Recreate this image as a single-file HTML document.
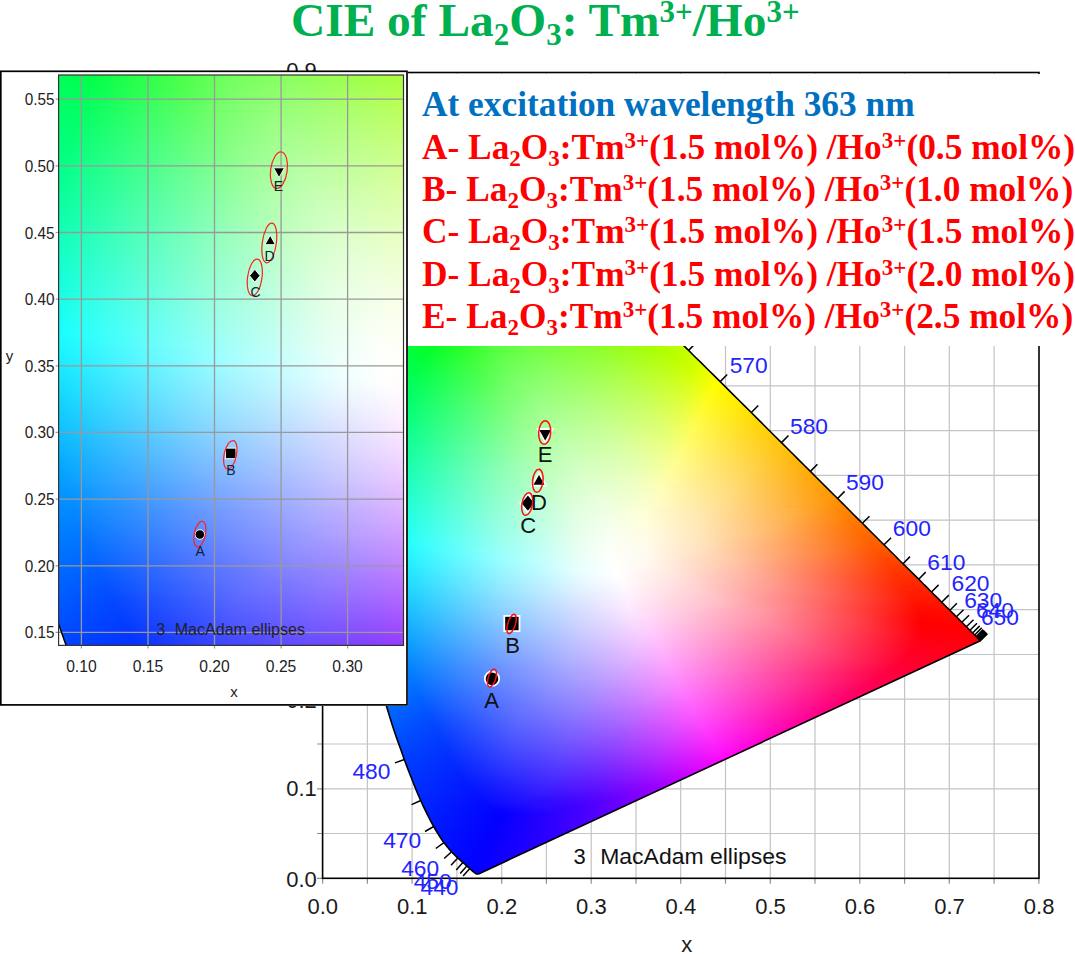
<!DOCTYPE html><html><head><meta charset="utf-8"><style>
body{margin:0;width:1075px;height:954px;background:#fff;position:relative;overflow:hidden}
.L{position:absolute;left:0;top:0}
.f{position:absolute;left:0;top:0;width:1075px;height:954px}
.f i{position:absolute;display:block}
text{font-family:'Liberation Sans',sans-serif}
.lg{position:absolute;left:408px;top:74px;width:667px;height:271.5px;background:#fff}
.lg div{position:absolute;left:14px;white-space:nowrap;font:bold 35.35px 'Liberation Serif',serif;color:#f00;line-height:1}
.lg sub{font-size:23px;vertical-align:-7px;line-height:0}
.lg sup{font-size:23px;vertical-align:11px;line-height:0}
.tt{position:absolute;left:291px;top:0;white-space:nowrap;font:bold 47.4px 'Liberation Serif',serif;color:#00b050;line-height:1}
.tt sub{font-size:31px;vertical-align:-9px;line-height:0}
.tt sup{font-size:31px;vertical-align:14px;line-height:0}
</style></head><body>
<svg class="L" width="1075" height="954" viewBox="0 0 1075 954">
<path d="M367.4 72.5V878.3M412.1 72.5V878.3M456.9 72.5V878.3M501.7 72.5V878.3M546.4 72.5V878.3M591.2 72.5V878.3M636.0 72.5V878.3M680.7 72.5V878.3M725.5 72.5V878.3M770.3 72.5V878.3M815.0 72.5V878.3M859.8 72.5V878.3M904.6 72.5V878.3M949.3 72.5V878.3M994.1 72.5V878.3M322.6 833.5H1039M322.6 788.8H1039M322.6 744.0H1039M322.6 699.2H1039M322.6 654.5H1039M322.6 609.7H1039M322.6 564.9H1039M322.6 520.2H1039M322.6 475.4H1039M322.6 430.6H1039M322.6 385.9H1039M322.6 341.1H1039M322.6 296.3H1039M322.6 251.6H1039M322.6 206.8H1039M322.6 162.0H1039M322.6 117.3H1039" stroke="#c4c4c4" stroke-width="1.2" fill="none"/>
<path d="M322.6 878.3v5.5M367.4 878.3v5.5M412.1 878.3v5.5M456.9 878.3v5.5M501.7 878.3v5.5M546.4 878.3v5.5M591.2 878.3v5.5M636.0 878.3v5.5M680.7 878.3v5.5M725.5 878.3v5.5M770.3 878.3v5.5M815.0 878.3v5.5M859.8 878.3v5.5M904.6 878.3v5.5M949.3 878.3v5.5M994.1 878.3v5.5M1038.9 878.3v5.5M317 878.3h5.6M317 833.5h5.6M317 788.8h5.6M317 744.0h5.6M317 699.2h5.6M317 654.5h5.6M317 609.7h5.6M317 564.9h5.6M317 520.2h5.6M317 475.4h5.6M317 430.6h5.6M317 385.9h5.6M317 341.1h5.6M317 296.3h5.6M317 251.6h5.6M317 206.8h5.6M317 162.0h5.6M317 117.3h5.6M317 72.5h5.6" stroke="#909090" stroke-width="1.2" fill="none"/>
<rect x="322.6" y="72.5" width="716.4" height="805.8" fill="none" stroke="#000" stroke-width="1.6"/>
<text x="322.8" y="913.8" font-size="22" text-anchor="middle" fill="#1a1a1a">0.0</text>
<text x="412.3" y="913.8" font-size="22" text-anchor="middle" fill="#1a1a1a">0.1</text>
<text x="501.9" y="913.8" font-size="22" text-anchor="middle" fill="#1a1a1a">0.2</text>
<text x="591.4" y="913.8" font-size="22" text-anchor="middle" fill="#1a1a1a">0.3</text>
<text x="680.9" y="913.8" font-size="22" text-anchor="middle" fill="#1a1a1a">0.4</text>
<text x="770.5" y="913.8" font-size="22" text-anchor="middle" fill="#1a1a1a">0.5</text>
<text x="860.0" y="913.8" font-size="22" text-anchor="middle" fill="#1a1a1a">0.6</text>
<text x="949.5" y="913.8" font-size="22" text-anchor="middle" fill="#1a1a1a">0.7</text>
<text x="1039.1" y="913.8" font-size="22" text-anchor="middle" fill="#1a1a1a">0.8</text>
<text x="316.8" y="886.5" font-size="22" text-anchor="end" fill="#1a1a1a">0.0</text>
<text x="316.8" y="796.3" font-size="22" text-anchor="end" fill="#1a1a1a">0.1</text>
<text x="316.8" y="707.6" font-size="22" text-anchor="end" fill="#1a1a1a">0.2</text>
<text x="316.8" y="617.7" font-size="22" text-anchor="end" fill="#1a1a1a">0.3</text>
<text x="316.8" y="528.2" font-size="22" text-anchor="end" fill="#1a1a1a">0.4</text>
<text x="316.8" y="438.6" font-size="22" text-anchor="end" fill="#1a1a1a">0.5</text>
<text x="316.8" y="349.1" font-size="22" text-anchor="end" fill="#1a1a1a">0.6</text>
<text x="316.8" y="259.6" font-size="22" text-anchor="end" fill="#1a1a1a">0.7</text>
<text x="316.8" y="170.0" font-size="22" text-anchor="end" fill="#1a1a1a">0.8</text>
<text x="316.8" y="77.7" font-size="22" text-anchor="end" fill="#1a1a1a">0.9</text>
<text x="686.7" y="951.5" font-size="22" text-anchor="middle" fill="#1a1a1a">x</text>
</svg>
<div class="f" style="clip-path:polygon(478.5px 873.9px,478.5px 873.9px,478.5px 873.8px,478.4px 873.8px,478.4px 873.8px,478.4px 873.8px,478.4px 873.9px,478.3px 873.9px,478.3px 873.9px,478.3px 873.9px,478.2px 873.9px,478.2px 873.9px,478.1px 873.9px,478.1px 873.9px,478.0px 873.9px,478.0px 873.9px,478.0px 873.9px,477.9px 873.9px,477.9px 874.0px,477.8px 874.0px,477.8px 874.0px,477.8px 874.0px,477.7px 874.0px,477.7px 874.0px,477.6px 874.0px,477.5px 874.0px,477.4px 874.0px,477.4px 874.0px,477.3px 874.0px,477.2px 874.0px,477.1px 874.0px,477.0px 874.0px,477.0px 874.0px,476.9px 874.0px,476.8px 874.0px,476.7px 874.0px,476.6px 874.0px,476.5px 873.9px,476.4px 873.9px,476.2px 873.8px,476.1px 873.7px,475.9px 873.6px,475.7px 873.5px,475.5px 873.4px,475.3px 873.3px,475.1px 873.1px,474.9px 873.0px,474.6px 872.8px,474.4px 872.6px,474.1px 872.4px,473.8px 872.1px,473.5px 871.9px,473.1px 871.6px,472.8px 871.3px,472.4px 871.0px,472.0px 870.6px,471.6px 870.3px,471.2px 869.9px,470.8px 869.5px,470.3px 869.0px,469.8px 868.6px,469.3px 868.1px,468.7px 867.6px,468.1px 867.1px,467.5px 866.5px,466.8px 866.0px,466.1px 865.3px,465.4px 864.7px,464.6px 864.0px,463.7px 863.2px,462.8px 862.4px,461.9px 861.6px,461.0px 860.8px,459.9px 859.9px,458.9px 858.9px,457.8px 857.9px,456.6px 856.9px,455.4px 855.7px,454.2px 854.5px,452.8px 853.1px,451.5px 851.7px,450.1px 850.2px,448.7px 848.6px,447.2px 846.8px,445.6px 844.8px,443.9px 842.6px,442.1px 840.1px,440.2px 837.2px,438.2px 834.0px,436.0px 830.5px,433.7px 826.5px,431.4px 822.3px,428.9px 817.6px,426.3px 812.4px,423.6px 806.8px,420.7px 800.5px,417.7px 793.7px,414.6px 786.2px,411.4px 778.0px,407.9px 769.1px,404.3px 759.5px,400.6px 749.1px,396.6px 737.9px,392.5px 725.7px,388.4px 712.6px,384.1px 698.6px,379.9px 683.6px,375.7px 667.7px,371.5px 650.8px,367.4px 633.0px,363.2px 614.2px,359.1px 594.5px,355.0px 574.0px,351.0px 552.8px,347.2px 531.0px,343.6px 508.8px,340.2px 486.4px,337.2px 463.8px,334.4px 441.2px,332.0px 418.6px,329.9px 396.2px,328.2px 374.2px,327.0px 352.6px,326.2px 331.7px,325.9px 311.5px,326.1px 292.0px,326.8px 273.1px,328.0px 255.0px,329.8px 237.8px,332.1px 221.6px,335.0px 206.6px,338.5px 192.8px,342.5px 180.3px,347.0px 169.1px,352.0px 159.4px,357.4px 151.3px,363.2px 144.7px,369.3px 139.5px,375.7px 135.7px,382.3px 133.1px,389.1px 131.8px,396.1px 131.5px,403.1px 132.2px,410.3px 133.7px,417.5px 135.9px,424.8px 138.6px,432.1px 141.6px,439.5px 145.1px,446.8px 148.8px,454.0px 152.7px,461.1px 156.8px,468.1px 160.9px,475.0px 165.1px,481.8px 169.5px,488.6px 173.9px,495.3px 178.5px,501.9px 183.2px,508.6px 187.9px,515.1px 192.8px,521.7px 197.8px,528.2px 202.9px,534.7px 208.1px,541.2px 213.4px,547.7px 218.8px,554.1px 224.2px,560.6px 229.8px,567.0px 235.4px,573.4px 241.1px,579.8px 246.8px,586.2px 252.6px,592.6px 258.4px,599.0px 264.3px,605.5px 270.3px,611.9px 276.3px,618.3px 282.3px,624.7px 288.4px,631.1px 294.5px,637.5px 300.6px,643.9px 306.8px,650.3px 313.0px,656.7px 319.2px,663.1px 325.4px,669.4px 331.7px,675.8px 337.9px,682.2px 344.1px,688.6px 350.4px,694.9px 356.7px,701.3px 362.9px,707.6px 369.2px,713.9px 375.4px,720.2px 381.6px,726.5px 387.9px,732.7px 394.1px,738.9px 400.2px,745.1px 406.4px,751.3px 412.5px,757.4px 418.6px,763.5px 424.7px,769.5px 430.7px,775.5px 436.7px,781.5px 442.6px,787.4px 448.5px,793.2px 454.3px,799.0px 460.1px,804.7px 465.8px,810.4px 471.4px,816.0px 477.0px,821.5px 482.5px,826.9px 487.9px,832.3px 493.2px,837.6px 498.5px,842.8px 503.6px,847.9px 508.7px,852.8px 513.7px,857.7px 518.6px,862.4px 523.3px,867.0px 527.9px,871.4px 532.3px,875.7px 536.5px,879.9px 540.7px,884.0px 544.8px,888.0px 548.8px,892.0px 552.7px,895.8px 556.5px,899.4px 560.2px,903.0px 563.7px,906.4px 567.1px,909.7px 570.3px,912.8px 573.4px,915.8px 576.4px,918.7px 579.2px,921.5px 582.0px,924.1px 584.7px,926.7px 587.2px,929.2px 589.7px,931.5px 592.0px,933.7px 594.3px,935.9px 596.4px,937.9px 598.4px,939.9px 600.4px,941.7px 602.2px,943.5px 604.0px,945.2px 605.7px,946.8px 607.3px,948.4px 608.8px,949.9px 610.3px,951.3px 611.7px,952.7px 613.1px,954.0px 614.4px,955.2px 615.6px,956.4px 616.8px,957.6px 618.0px,958.7px 619.1px,959.8px 620.2px,960.9px 621.3px,961.9px 622.3px,962.9px 623.3px,963.8px 624.2px,964.7px 625.1px,965.6px 625.9px,966.4px 626.8px,967.2px 627.5px,967.9px 628.3px,968.6px 629.0px,969.3px 629.7px,970.0px 630.3px,970.6px 630.9px,971.1px 631.5px,971.7px 632.0px,972.1px 632.5px,972.6px 633.0px,973.1px 633.4px,973.5px 633.8px,973.9px 634.3px,974.3px 634.6px,974.7px 635.0px,975.0px 635.4px,975.3px 635.7px,975.6px 636.0px,975.9px 636.3px,976.2px 636.5px,976.4px 636.8px,976.6px 637.0px,976.8px 637.2px,977.0px 637.4px,977.2px 637.5px,977.4px 637.7px,977.5px 637.9px,977.7px 638.0px,977.8px 638.2px,978.0px 638.3px,978.1px 638.5px,978.3px 638.6px,978.4px 638.7px,978.5px 638.9px,978.6px 639.0px,978.8px 639.1px,978.9px 639.2px,979.0px 639.4px,979.1px 639.5px,979.3px 639.6px,979.4px 639.7px,979.5px 639.9px,979.6px 640.0px,979.7px 640.1px,979.8px 640.2px,979.9px 640.3px,980.0px 640.3px,980.0px 640.4px,980.1px 640.4px,980.1px 640.5px,980.2px 640.5px,980.2px 640.6px,980.3px 640.6px,980.3px 640.6px,980.3px 640.7px,980.3px 640.7px,980.4px 640.7px,980.4px 640.7px,980.4px 640.8px,980.4px 640.8px)"><i style="left:376px;top:344px;width:311px;height:2px;background:linear-gradient(90deg,#00ff55 0px,#03ff25 54px,#2bff27 88px,#4fff3b 115px,#6cff43 152px,#85ff2f 208px,#a2ff07 268px,#aaff00 281px,#c2ff00 310px)"></i>
<i style="left:376px;top:346px;width:313px;height:2px;background:linear-gradient(90deg,#00ff57 0px,#03ff28 53px,#2dff2a 89px,#50ff3d 115px,#6eff46 152px,#86ff33 207px,#a3ff0a 268px,#adff00 284px,#c4ff00 312px)"></i>
<i style="left:376px;top:348px;width:315px;height:2px;background:linear-gradient(90deg,#00ff58 0px,#03ff2a 52px,#31ff2d 91px,#57ff42 120px,#72ff48 157px,#8dff2f 219px,#a9ff07 276px,#b1ff00 288px,#c7ff00 314px)"></i>
<i style="left:376px;top:350px;width:317px;height:2px;background:linear-gradient(90deg,#00ff5a 0px,#03ff2d 51px,#33ff2f 92px,#58ff44 120px,#74ff4a 157px,#8eff33 218px,#aaff0b 275px,#b3ff00 290px,#c9ff00 316px)"></i>
<i style="left:376px;top:352px;width:319px;height:2px;background:linear-gradient(90deg,#00ff5c 0px,#02ff2f 50px,#35ff32 93px,#59ff45 120px,#75ff4d 157px,#8fff36 217px,#aaff0f 274px,#b6ff00 293px,#cbff00 318px)"></i>
<i style="left:376px;top:354px;width:321px;height:2px;background:linear-gradient(90deg,#00ff5d 0px,#02ff32 49px,#37ff34 94px,#5aff47 120px,#77ff4f 157px,#90ff3a 216px,#abff13 273px,#b9ff00 296px,#ceff00 320px)"></i>
<i style="left:376px;top:356px;width:323px;height:2px;background:linear-gradient(90deg,#00ff5e 0px,#02ff35 48px,#3bff38 96px,#60ff4c 125px,#7bff51 162px,#97ff36 228px,#b3ff0c 284px,#bdff00 300px,#d2ff00 322px)"></i>
<i style="left:376px;top:358px;width:325px;height:2px;background:linear-gradient(90deg,#00ff5f 0px,#03ff37 48px,#3dff3a 97px,#61ff4e 125px,#7cff54 162px,#98ff3a 227px,#b3ff10 283px,#bfff00 302px,#d6ff00 324px)"></i>
<i style="left:376px;top:360px;width:327px;height:2px;background:linear-gradient(90deg,#00ff61 0px,#03ff3a 47px,#3fff3c 98px,#63ff50 125px,#7eff56 162px,#99ff3d 226px,#b4ff14 282px,#c2ff00 305px,#d8ff00 324px,#dbff00 326px)"></i>
<i style="left:376px;top:362px;width:329px;height:2px;background:linear-gradient(90deg,#00ff62 0px,#00ff40 41px,#0fff3c 56px,#43ff3f 100px,#68ff53 129px,#81ff58 166px,#9fff3b 235px,#bbff0f 291px,#c6ff00 309px,#dfff00 328px)"></i>
<i style="left:376px;top:364px;width:331px;height:2px;background:linear-gradient(90deg,#00ff63 0px,#00ff45 37px,#05ff3f 47px,#45ff42 101px,#69ff55 129px,#83ff5b 166px,#a0ff3f 234px,#bbff13 290px,#c9ff00 311px,#e3ff00 330px)"></i>
<i style="left:376px;top:366px;width:333px;height:2px;background:linear-gradient(90deg,#00ff64 0px,#00ff49 35px,#05ff42 46px,#47ff44 102px,#6bff58 130px,#85ff5d 167px,#a1ff41 235px,#bdff15 291px,#ccff00 314px,#e7ff00 332px)"></i>
<i style="left:376px;top:368px;width:335px;height:2px;background:linear-gradient(90deg,#00ff66 0px,#00ff4b 35px,#04ff44 45px,#4aff47 104px,#70ff5b 134px,#88ff5f 171px,#a6ff40 242px,#c3ff10 299px,#d2ff00 317px,#ecff00 334px)"></i>
<i style="left:376px;top:370px;width:337px;height:2px;background:linear-gradient(90deg,#00ff67 0px,#00ff4d 35px,#04ff47 44px,#4cff4a 105px,#71ff5d 134px,#89ff61 171px,#a7ff44 241px,#c4ff14 298px,#d4ff00 318px,#f0ff00 336px)"></i>
<i style="left:376px;top:372px;width:339px;height:2px;background:linear-gradient(90deg,#00ff68 0px,#00ff4e 36px,#07ff4a 46px,#4eff4c 106px,#72ff5f 134px,#8aff64 170px,#a8ff48 239px,#c3ff1b 295px,#d5ff03 317px,#f5ff00 338px)"></i>
<i style="left:376px;top:374px;width:341px;height:2px;background:linear-gradient(90deg,#00ff6a 0px,#00ff4f 37px,#4eff4d 106px,#6fff5f 130px,#8aff67 166px,#a4ff50 229px,#bfff28 284px,#d4ff09 315px,#e5ff00 327px,#f9ff00 340px)"></i>
<i style="left:376px;top:376px;width:343px;height:2px;background:linear-gradient(90deg,#00ff6b 0px,#03ff4f 41px,#4eff4f 105px,#70ff61 130px,#8bff69 166px,#a5ff54 228px,#bfff2c 283px,#d5ff0c 315px,#eaff00 329px,#feff00 342px)"></i>
<i style="left:376px;top:378px;width:345px;height:2px;background:linear-gradient(90deg,#00ff6c 0px,#03ff52 40px,#50ff51 106px,#74ff64 133px,#8eff6b 169px,#aaff53 235px,#c4ff29 290px,#d6ff10 314px,#eeff00 331px,#fffc00 344px)"></i>
<i style="left:376px;top:380px;width:347px;height:2px;background:linear-gradient(90deg,#00ff6e 0px,#02ff55 39px,#51ff54 106px,#79ff68 137px,#91ff6d 173px,#aeff52 241px,#caff25 297px,#d9ff12 315px,#f5ff00 334px,#fffc00 343px,#fffa00 346px)"></i>
<i style="left:376px;top:382px;width:349px;height:2px;background:linear-gradient(90deg,#00ff6f 0px,#03ff57 39px,#53ff56 107px,#7cff6b 139px,#94ff6f 175px,#b1ff53 244px,#cdff25 300px,#ddff13 317px,#fbff00 337px,#fff900 347px,#fff800 348px)"></i>
<i style="left:376px;top:384px;width:351px;height:2px;background:linear-gradient(90deg,#00ff71 0px,#03ff5a 38px,#56ff59 108px,#7eff6d 140px,#96ff71 176px,#b2ff55 245px,#cfff26 302px,#e5ff12 321px,#fffd00 340px,#fff700 350px)"></i>
<i style="left:376px;top:386px;width:353px;height:2px;background:linear-gradient(90deg,#00ff72 0px,#02ff5d 37px,#57ff5b 108px,#82ff70 143px,#99ff73 180px,#b6ff56 249px,#d3ff24 307px,#fffd01 339px,#fff500 352px)"></i>
<i style="left:376px;top:388px;width:355px;height:2px;background:linear-gradient(90deg,#00ff73 0px,#03ff5f 37px,#59ff5e 109px,#73ff69 128px,#92ff77 163px,#a8ff6a 214px,#c0ff4a 269px,#d9ff24 310px,#fffd05 338px,#fff500 350px,#fff300 354px)"></i>
<i style="left:376px;top:390px;width:357px;height:2px;background:linear-gradient(90deg,#00ff75 0px,#03ff60 36px,#5bff60 110px,#78ff6d 132px,#95ff79 167px,#adff69 223px,#c5ff47 276px,#dbff27 310px,#fffd09 337px,#fff500 349px,#fff100 356px)"></i>
<i style="left:376px;top:392px;width:359px;height:2px;background:linear-gradient(90deg,#00ff76 0px,#02ff62 35px,#5dff63 111px,#74ff6c 128px,#94ff7b 163px,#aaff70 212px,#c2ff51 268px,#dbff2b 309px,#fffd0d 336px,#fff300 351px,#fff000 358px)"></i>
<i style="left:376px;top:394px;width:361px;height:2px;background:linear-gradient(90deg,#00ff78 0px,#03ff64 35px,#60ff65 112px,#74ff6d 127px,#95ff7d 162px,#a9ff74 208px,#c2ff56 265px,#dbff2f 308px,#fffd12 335px,#fff100 354px,#ffee00 360px)"></i>
<i style="left:376px;top:396px;width:363px;height:2px;background:linear-gradient(90deg,#00ff79 0px,#03ff66 34px,#62ff68 113px,#77ff70 129px,#97ff7f 164px,#acff75 212px,#c4ff57 267px,#dcff33 307px,#fffc16 334px,#ffef00 356px,#ffec00 362px)"></i>
<i style="left:376px;top:398px;width:365px;height:2px;background:linear-gradient(90deg,#00ff7b 0px,#02ff68 33px,#63ff6a 113px,#77ff70 128px,#98ff81 163px,#acff79 209px,#c4ff5c 265px,#ddff36 307px,#fffc1a 333px,#ffed00 359px,#ffea00 364px)"></i>
<i style="left:376px;top:400px;width:367px;height:2px;background:linear-gradient(90deg,#00ff7c 0px,#03ff6a 33px,#65ff6c 114px,#77ff72 128px,#99ff83 163px,#adff7c 208px,#c6ff5e 265px,#deff3a 306px,#fffc1e 332px,#ffea00 362px,#ffe800 366px)"></i>
<i style="left:376px;top:402px;width:369px;height:2px;background:linear-gradient(90deg,#00ff7e 0px,#03ff6c 32px,#67ff6f 115px,#7aff74 130px,#9cff85 165px,#b0ff7d 211px,#c7ff60 266px,#deff3e 305px,#fffc22 331px,#ffe800 365px,#ffe600 368px)"></i>
<i style="left:376px;top:404px;width:371px;height:2px;background:linear-gradient(90deg,#00ff7f 0px,#02ff6e 31px,#69ff71 116px,#7cff77 131px,#9dff88 166px,#b2ff7f 213px,#c9ff62 267px,#e0ff40 305px,#fffc26 330px,#ffe600 367px,#ffe400 370px)"></i>
<i style="left:376px;top:406px;width:373px;height:2px;background:linear-gradient(90deg,#00ff81 0px,#03ff70 31px,#6bff73 117px,#7eff79 132px,#9fff8a 167px,#b4ff81 214px,#cbff64 268px,#e0ff44 304px,#fffc2a 329px,#ffe400 370px,#ffe300 372px)"></i>
<i style="left:376px;top:408px;width:375px;height:2px;background:linear-gradient(90deg,#00ff82 0px,#03ff72 30px,#6dff76 118px,#80ff7b 133px,#a0ff8c 167px,#b5ff84 213px,#cbff68 267px,#e0ff48 303px,#fffc2e 328px,#ffe100 373px,#ffe100 374px)"></i>
<i style="left:376px;top:410px;width:377px;height:2px;background:linear-gradient(90deg,#00ff84 0px,#02ff74 29px,#6fff78 119px,#83ff7e 135px,#a3ff8e 170px,#b9ff84 220px,#cfff67 272px,#e2ff4b 303px,#fffc32 327px,#ffdf00 376px)"></i>
<i style="left:376px;top:412px;width:379px;height:2px;background:linear-gradient(90deg,#00ff85 0px,#03ff76 29px,#72ff7a 121px,#85ff80 136px,#a5ff90 171px,#baff86 221px,#d0ff69 273px,#e2ff4f 302px,#fffc36 326px,#ffdd00 378px)"></i>
<i style="left:376px;top:414px;width:381px;height:2px;background:linear-gradient(90deg,#00ff87 0px,#03ff78 28px,#74ff7d 122px,#87ff82 137px,#a6ff92 171px,#bbff89 220px,#d1ff6c 272px,#e4ff51 302px,#fffc3a 325px,#ffdb00 380px)"></i>
<i style="left:376px;top:416px;width:383px;height:2px;background:linear-gradient(90deg,#00ff89 0px,#02ff7a 27px,#76ff7f 123px,#8aff85 139px,#a9ff94 173px,#beff8a 224px,#d3ff6c 275px,#e4ff55 301px,#fffc3e 324px,#ffd900 382px)"></i>
<i style="left:376px;top:418px;width:385px;height:2px;background:linear-gradient(90deg,#00ff8a 0px,#03ff7c 27px,#78ff81 124px,#8cff87 140px,#aaff96 174px,#c0ff8b 226px,#d6ff6d 277px,#e6ff58 301px,#fffc42 323px,#ffd700 384px)"></i>
<i style="left:376px;top:420px;width:387px;height:2px;background:linear-gradient(90deg,#00ff8c 0px,#03ff7e 26px,#7aff84 125px,#8dff89 141px,#acff98 175px,#c2ff8d 227px,#d7ff6f 278px,#e7ff5b 301px,#fffc46 322px,#ffd501 386px)"></i>
<i style="left:376px;top:422px;width:389px;height:2px;background:linear-gradient(90deg,#00ff8d 0px,#02ff80 25px,#7cff86 126px,#91ff8b 143px,#aeff9a 177px,#c5ff8e 232px,#dbff6e 283px,#eaff5c 302px,#fffc4a 321px,#ffd301 388px)"></i>
<i style="left:376px;top:424px;width:391px;height:2px;background:linear-gradient(90deg,#00ff8f 0px,#03ff83 25px,#7eff88 127px,#92ff8d 144px,#b0ff9c 178px,#c7ff90 233px,#dcff6f 284px,#ebff5f 302px,#fffc4d 320px,#ffd202 390px)"></i>
<i style="left:376px;top:426px;width:393px;height:2px;background:linear-gradient(90deg,#00ff91 0px,#03ff85 24px,#80ff8a 128px,#94ff8f 145px,#b2ff9e 179px,#c8ff92 235px,#deff70 286px,#f4ff5c 308px,#fffc51 319px,#ffd003 392px)"></i>
<i style="left:376px;top:428px;width:395px;height:2px;background:linear-gradient(90deg,#00ff92 0px,#02ff87 23px,#82ff8c 129px,#97ff92 147px,#b3ffa0 180px,#caff93 236px,#e0ff72 287px,#fffc55 318px,#ffce03 394px)"></i>
<i style="left:376px;top:430px;width:397px;height:2px;background:linear-gradient(90deg,#00ff94 0px,#03ff89 23px,#84ff8f 130px,#99ff94 148px,#b5ffa2 181px,#ccff95 237px,#e1ff74 288px,#fffc58 317px,#ffcc04 396px)"></i>
<i style="left:376px;top:432px;width:399px;height:2px;background:linear-gradient(90deg,#00ff96 0px,#03ff8b 22px,#86ff91 131px,#9bff96 149px,#b7ffa4 182px,#cdff97 239px,#e3ff74 290px,#fffc5c 316px,#ffca04 398px)"></i>
<i style="left:376px;top:434px;width:401px;height:2px;background:linear-gradient(90deg,#00ff97 0px,#03ff8d 22px,#89ff93 133px,#9eff99 151px,#b9ffa6 184px,#d0ff98 242px,#e9ff73 294px,#fffc60 315px,#ffc905 400px)"></i>
<i style="left:376px;top:436px;width:403px;height:2px;background:linear-gradient(90deg,#00ff99 0px,#03ff8f 21px,#8bff95 134px,#9fff9b 152px,#bbffa8 185px,#d1ff9a 243px,#e9ff77 293px,#fffc63 314px,#ffc706 401px,#ffc705 402px)"></i>
<i style="left:376px;top:438px;width:405px;height:2px;background:linear-gradient(90deg,#00ff9b 0px,#02ff91 20px,#8dff97 135px,#a1ff9d 153px,#bcffaa 186px,#d3ff9c 244px,#ebff79 293px,#fffc67 313px,#ffc80a 400px,#ffc505 404px)"></i>
<i style="left:376px;top:440px;width:407px;height:2px;background:linear-gradient(90deg,#00ff9d 0px,#03ff93 20px,#8fff99 136px,#a4ff9f 155px,#beffac 188px,#d5ff9d 246px,#ebff7d 292px,#fffc6a 312px,#ffc90f 398px,#ffc306 406px)"></i>
<i style="left:376px;top:442px;width:409px;height:2px;background:linear-gradient(90deg,#00ff9e 0px,#03ff96 19px,#8fff9b 136px,#a6ffa1 156px,#bfffae 188px,#d6ff9f 246px,#ebff80 291px,#fffd6e 311px,#ffca15 396px,#ffc106 408px)"></i>
<i style="left:376px;top:444px;width:411px;height:2px;background:linear-gradient(90deg,#00ffa0 0px,#03ff98 19px,#91ff9d 137px,#a7ffa3 157px,#c1ffb0 189px,#d7ffa1 247px,#edff82 291px,#fffd71 310px,#ffcb1a 394px,#ffc006 410px)"></i>
<i style="left:376px;top:446px;width:413px;height:2px;background:linear-gradient(90deg,#00ffa2 0px,#03ff9a 18px,#93ff9f 138px,#a9ffa5 158px,#c2ffb1 190px,#d8ffa3 247px,#edff86 290px,#fffd75 309px,#ffcb1e 393px,#ffbe06 412px)"></i>
<i style="left:376px;top:448px;width:415px;height:2px;background:linear-gradient(90deg,#00ffa4 0px,#04ff9c 18px,#95ffa2 139px,#acffa7 160px,#c4ffb3 192px,#daffa5 249px,#edff89 289px,#fffd78 308px,#ffcc23 391px,#ffbc06 414px)"></i>
<i style="left:376px;top:450px;width:417px;height:2px;background:linear-gradient(90deg,#00ffa5 0px,#03ff9e 17px,#96ffa3 139px,#adffa9 161px,#c6ffb5 193px,#dbffa6 250px,#eeff8b 289px,#fffd7b 307px,#ffcd27 389px,#ffba06 416px)"></i>
<i style="left:376px;top:452px;width:419px;height:2px;background:linear-gradient(90deg,#00ffa7 0px,#02ffa0 16px,#96ffa5 139px,#afffab 162px,#c7ffb7 194px,#ddffa8 251px,#efff8e 288px,#fffd7f 306px,#ffcd2b 388px,#ffb806 418px)"></i>
<i style="left:376px;top:454px;width:421px;height:2px;background:linear-gradient(90deg,#00ffa9 0px,#03ffa2 16px,#98ffa7 140px,#b1ffad 163px,#c9ffb9 195px,#deffaa 251px,#f0ff91 288px,#fffd82 305px,#ffce30 386px,#ffb706 420px)"></i>
<i style="left:376px;top:456px;width:423px;height:2px;background:linear-gradient(90deg,#00ffab 0px,#02ffa4 15px,#98ffa9 139px,#b2ffaf 164px,#caffba 196px,#dfffac 252px,#f0ff94 287px,#fffd85 304px,#ffcf35 384px,#ffb506 422px)"></i>
<i style="left:376px;top:458px;width:425px;height:2px;background:linear-gradient(90deg,#00ffad 0px,#03ffa7 15px,#98ffab 139px,#b5ffb1 166px,#ccffbc 197px,#e0ffae 252px,#f0ff97 286px,#fffd88 303px,#ffd03a 382px,#ffb306 424px)"></i>
<i style="left:376px;top:460px;width:427px;height:2px;background:linear-gradient(90deg,#00ffaf 0px,#04ffa9 15px,#99ffad 139px,#b6ffb3 167px,#cdffbe 198px,#e1ffb0 253px,#f2ff99 286px,#fffd8c 302px,#ffd13d 381px,#ffb105 426px)"></i>
<i style="left:376px;top:462px;width:429px;height:2px;background:linear-gradient(90deg,#00ffb0 0px,#03ffab 14px,#98ffaf 137px,#b8ffb5 168px,#cfffc0 199px,#e2ffb2 253px,#f2ff9c 285px,#fffd8f 301px,#ffd142 379px,#ffb005 428px)"></i>
<i style="left:376px;top:464px;width:431px;height:2px;background:linear-gradient(90deg,#00ffb2 0px,#04ffad 14px,#97ffb1 136px,#baffb6 169px,#d0ffc1 200px,#e3ffb3 254px,#f3ff9e 285px,#fffd92 300px,#ffd247 377px,#ffae05 430px)"></i>
<i style="left:376px;top:466px;width:433px;height:2px;background:linear-gradient(90deg,#00ffb4 0px,#03ffaf 13px,#88ffb3 122px,#bbffb8 170px,#d2ffc3 201px,#e4ffb5 254px,#f3ffa1 284px,#fffd95 299px,#ffd34a 376px,#ffac04 432px)"></i>
<i style="left:376px;top:468px;width:435px;height:2px;background:linear-gradient(90deg,#00ffb6 0px,#03ffb1 13px,#8affb4 123px,#bdffba 171px,#d3ffc5 202px,#e5ffb7 255px,#f4ffa3 284px,#fffd98 298px,#ffd44f 374px,#ffaa04 434px)"></i>
<i style="left:376px;top:470px;width:437px;height:2px;background:linear-gradient(90deg,#00ffb8 0px,#03ffb3 12px,#8bffb6 124px,#bfffbc 173px,#d5ffc6 204px,#e7ffb8 256px,#f5ffa6 283px,#fffd9b 297px,#ffd553 372px,#ffa903 436px)"></i>
<i style="left:376px;top:472px;width:439px;height:2px;background:linear-gradient(90deg,#00ffba 0px,#03ffb6 12px,#8dffb8 125px,#c1ffbe 174px,#d6ffc8 205px,#e8ffba 256px,#f6ffa8 283px,#fffd9e 296px,#ffd558 370px,#ffa703 438px)"></i>
<i style="left:376px;top:474px;width:441px;height:2px;background:linear-gradient(90deg,#00ffbc 0px,#04ffb8 12px,#8fffb9 126px,#c3ffc0 176px,#d8ffca 206px,#e9ffbc 257px,#f7ffab 283px,#fffda1 295px,#ffd65b 369px,#ffa502 440px)"></i>
<i style="left:376px;top:476px;width:443px;height:2px;background:linear-gradient(90deg,#00ffbe 0px,#04ffba 12px,#8effbb 125px,#c5ffc2 177px,#d9ffcb 207px,#eaffbe 257px,#f7ffad 282px,#fffca3 295px,#ffd65e 368px,#ffa301 442px)"></i>
<i style="left:376px;top:478px;width:445px;height:2px;background:linear-gradient(90deg,#00ffc0 0px,#03ffbc 11px,#8bffbc 122px,#c7ffc4 179px,#dbffcd 209px,#ebffbf 258px,#f8ffaf 282px,#fffca6 294px,#ffd763 366px,#ffa101 444px)"></i>
<i style="left:376px;top:480px;width:448px;height:2px;background:linear-gradient(90deg,#00ffc2 0px,#04ffbe 11px,#8bffbd 121px,#c9ffc6 180px,#dcffce 210px,#ecffc1 258px,#f9ffb1 282px,#fffca8 294px,#ffd766 365px,#ff9f00 447px)"></i>
<i style="left:376px;top:482px;width:450px;height:2px;background:linear-gradient(90deg,#00ffc4 0px,#04ffc0 11px,#8affbf 120px,#caffc7 181px,#ddffd0 211px,#edffc2 259px,#faffb3 282px,#fffba9 295px,#ffd768 365px,#ff9e00 449px)"></i>
<i style="left:376px;top:484px;width:452px;height:2px;background:linear-gradient(90deg,#00ffc6 0px,#04ffc2 10px,#88ffc0 118px,#ccffca 183px,#dfffd1 213px,#eeffc4 260px,#fcffb5 283px,#ffdd75 355px,#ffa713 435px,#ff9d00 451px)"></i>
<i style="left:376px;top:486px;width:454px;height:2px;background:linear-gradient(90deg,#00ffc8 0px,#04ffc5 10px,#89ffc2 118px,#ceffcb 184px,#e0ffd3 214px,#efffc6 260px,#fdffb6 283px,#ffdd78 354px,#ffa816 434px,#ff9b00 452px,#ff9b00 453px)"></i>
<i style="left:376px;top:488px;width:456px;height:2px;background:linear-gradient(90deg,#00ffca 0px,#04ffc7 10px,#88ffc4 117px,#cfffcd 185px,#e1ffd4 215px,#f0ffc7 261px,#fffdb4 289px,#ffdb77 357px,#ffa310 440px,#ff9a00 454px,#ff9a00 455px)"></i>
<i style="left:376px;top:490px;width:458px;height:2px;background:linear-gradient(90deg,#00ffcc 0px,#05ffc9 10px,#89ffc5 117px,#d2ffcf 187px,#e3ffd6 217px,#f1ffc8 262px,#fffdb7 288px,#ffdb7a 356px,#ffa312 440px,#ff9900 455px,#ff9800 457px)"></i>
<i style="left:376px;top:492px;width:460px;height:2px;background:linear-gradient(90deg,#00ffce 0px,#04ffcb 9px,#88ffc7 116px,#d3ffd0 188px,#e4ffd7 218px,#f2ffca 262px,#fffdb9 287px,#ffdc7e 354px,#ffa315 439px,#ff9700 457px,#ff9700 459px)"></i>
<i style="left:376px;top:494px;width:462px;height:2px;background:linear-gradient(90deg,#00ffd0 0px,#04ffcd 9px,#89ffc9 116px,#d4ffd2 189px,#e5ffd9 219px,#f3ffcb 263px,#fffdbc 286px,#ffdd82 352px,#ffa41a 437px,#ff9600 458px,#ff9600 461px)"></i>
<i style="left:376px;top:496px;width:464px;height:2px;background:linear-gradient(90deg,#00ffd2 0px,#05ffcf 9px,#89ffca 116px,#d7ffd4 191px,#e7ffda 221px,#f4ffcc 264px,#fffdbe 285px,#ffde86 350px,#ffa61e 435px,#ff9500 459px,#ff9400 463px)"></i>
<i style="left:376px;top:498px;width:466px;height:2px;background:linear-gradient(90deg,#00ffd4 0px,#05ffd2 9px,#8affcc 116px,#d8ffd5 192px,#e8ffdb 222px,#f4ffce 264px,#fffdc1 284px,#ffde89 349px,#ffa51f 436px,#ff9300 461px,#ff9100 465px)"></i>
<i style="left:376px;top:500px;width:468px;height:2px;background:linear-gradient(90deg,#00ffd6 0px,#05ffd4 9px,#8affce 116px,#daffd7 194px,#eaffdd 225px,#f7ffce 267px,#fffdc3 283px,#ffdf8c 347px,#ffa623 434px,#ff9000 462px,#ff8f00 467px)"></i>
<i style="left:376px;top:502px;width:470px;height:2px;background:linear-gradient(90deg,#00ffd8 0px,#06ffd6 9px,#8bffcf 116px,#dbffd9 195px,#ebffde 226px,#f8ffd0 267px,#fffcc5 283px,#ffdf8f 346px,#ffa523 435px,#ff8e00 463px,#ff8c00 469px)"></i>
<i style="left:376px;top:504px;width:472px;height:2px;background:linear-gradient(90deg,#00ffda 0px,#06ffd8 9px,#8cffd1 117px,#ddffda 196px,#ecffdf 227px,#f9ffd1 268px,#fffcc7 283px,#ffdf92 345px,#ffa525 435px,#ff8b00 465px,#ff8a00 471px)"></i>
<i style="left:376px;top:506px;width:474px;height:2px;background:linear-gradient(90deg,#00ffdc 0px,#06ffda 9px,#8dffd3 117px,#deffdc 197px,#edffe1 228px,#fbffd2 269px,#fff9c4 290px,#ffdb8c 352px,#ff9a18 446px,#ff8900 466px,#ff8700 473px)"></i>
<i style="left:376px;top:508px;width:476px;height:2px;background:linear-gradient(90deg,#00ffde 0px,#06ffdc 9px,#8dffd4 117px,#e0ffde 199px,#eeffe2 231px,#fdffd2 271px,#ffe5a1 333px,#ffb241 416px,#ff8700 468px,#ff8500 475px)"></i>
<i style="left:376px;top:510px;width:478px;height:2px;background:linear-gradient(90deg,#00ffe0 0px,#07ffde 9px,#8dffd6 117px,#e1ffdf 200px,#efffe3 232px,#fdffd4 270px,#ffe5a4 332px,#ffb143 416px,#ff8400 469px,#ff8200 477px)"></i>
<i style="left:376px;top:512px;width:480px;height:2px;background:linear-gradient(90deg,#00ffe2 0px,#07ffe1 9px,#8fffd8 118px,#e2ffe0 201px,#f0ffe4 233px,#feffd6 270px,#ffe6a6 331px,#ffb043 417px,#ff8200 470px,#ff8000 479px)"></i>
<i style="left:376px;top:514px;width:482px;height:2px;background:linear-gradient(90deg,#00ffe5 0px,#07ffe3 9px,#8fffd9 118px,#e3ffe2 202px,#f1ffe6 234px,#feffd8 269px,#ffe6aa 329px,#ffb046 416px,#ff7f00 472px,#ff7d00 481px)"></i>
<i style="left:376px;top:516px;width:484px;height:2px;background:linear-gradient(90deg,#00ffe7 0px,#07ffe5 9px,#90ffdb 118px,#e0ffe0 198px,#f0ffe8 226px,#fdffdb 266px,#ffe8af 325px,#ffb44f 410px,#ff7d00 473px,#ff7b00 483px)"></i>
<i style="left:376px;top:518px;width:486px;height:2px;background:linear-gradient(90deg,#00ffe9 0px,#09ffe7 10px,#91ffdd 119px,#e1ffe2 199px,#f1ffe9 227px,#feffdc 266px,#ffe8b1 324px,#ffb24f 411px,#ff7b00 475px,#ff7900 485px)"></i>
<i style="left:376px;top:520px;width:488px;height:2px;background:linear-gradient(90deg,#00ffeb 0px,#0affe9 11px,#92ffde 120px,#e2ffe3 200px,#f2ffea 228px,#ffffdd 267px,#ffe8b3 324px,#ffb354 408px,#ff7900 476px,#ff7600 487px)"></i>
<i style="left:376px;top:522px;width:490px;height:2px;background:linear-gradient(90deg,#00ffed 0px,#0affeb 11px,#93ffe0 120px,#e3ffe5 201px,#f3ffeb 229px,#fffede 268px,#ffe8b4 324px,#ffb55b 404px,#ff7600 478px,#ff7400 489px)"></i>
<i style="left:376px;top:524px;width:492px;height:2px;background:linear-gradient(90deg,#00ffef 0px,#0cffed 12px,#94ffe2 121px,#e5ffe6 202px,#f4ffec 231px,#fffdde 271px,#ffe6b3 326px,#ffb761 400px,#ff7400 479px,#ff7200 491px)"></i>
<i style="left:376px;top:526px;width:494px;height:2px;background:linear-gradient(90deg,#00fff1 0px,#0cffef 12px,#94ffe4 121px,#e5ffe7 202px,#f4ffed 231px,#fffddf 271px,#ffe6b4 326px,#ffba67 396px,#ff7200 481px,#ff7000 493px)"></i>
<i style="left:376px;top:528px;width:496px;height:2px;background:linear-gradient(90deg,#00fff4 0px,#0cfff2 12px,#96ffe5 122px,#e6ffe8 203px,#f5ffee 232px,#fffcdf 273px,#ffe5b4 327px,#ffbc6d 392px,#ff7000 482px,#ff6d00 495px)"></i>
<i style="left:376px;top:530px;width:498px;height:2px;background:linear-gradient(90deg,#00fff6 0px,#0bfff4 11px,#95ffe7 121px,#e6ffe9 202px,#f6fff0 231px,#fffce2 271px,#ffe6b7 325px,#ffbe73 388px,#ff6d00 484px,#ff6b00 497px)"></i>
<i style="left:376px;top:532px;width:500px;height:2px;background:linear-gradient(90deg,#00fff8 0px,#0bfff6 11px,#96ffe9 122px,#e7ffeb 203px,#f6fff1 232px,#fffbe2 273px,#ffe5b7 327px,#ffbd74 388px,#ff6b00 485px,#ff6900 499px)"></i>
<i style="left:376px;top:534px;width:502px;height:2px;background:linear-gradient(90deg,#00fffa 0px,#0bfff8 11px,#96ffea 122px,#e6ffec 202px,#f7fff2 231px,#fffce4 271px,#ffe6ba 324px,#ffbe79 385px,#ff6900 487px,#ff6700 501px)"></i>
<i style="left:376px;top:536px;width:504px;height:2px;background:linear-gradient(90deg,#00fffc 0px,#0bfffa 11px,#96ffec 122px,#e7ffed 202px,#f7fff3 231px,#fffce5 271px,#ffe6bb 324px,#ffba76 389px,#ff6700 488px,#ff6500 503px)"></i>
<i style="left:376px;top:538px;width:506px;height:2px;background:linear-gradient(90deg,#00fffe 0px,#0bfffc 11px,#96ffee 122px,#e7ffee 202px,#f8fff4 232px,#fffbe6 272px,#ffe4ba 326px,#ffa85f 410px,#ff6500 490px,#ff6300 505px)"></i>
<i style="left:376px;top:540px;width:508px;height:2px;background:linear-gradient(90deg,#00ffff 0px,#0bfffe 11px,#98fff0 123px,#e7ffef 202px,#f9fff5 232px,#fffbe7 272px,#ffe3b9 328px,#ff9749 430px,#ff6300 491px,#ff6100 507px)"></i>
<i style="left:376px;top:542px;width:510px;height:2px;background:linear-gradient(90deg,#00fdff 0px,#0bfeff 11px,#98fff1 123px,#e7fff0 202px,#f9fff6 232px,#fffbe8 272px,#ffe2b9 329px,#ff8a3a 444px,#ff6100 493px,#ff5f00 509px)"></i>
<i style="left:376px;top:544px;width:512px;height:2px;background:linear-gradient(90deg,#00fbff 0px,#0cfdff 12px,#99fff3 124px,#e7fff1 202px,#fafff7 233px,#fffae9 273px,#ffdeb5 334px,#ff8435 450px,#ff5e00 495px,#ff5c00 511px)"></i>
<i style="left:376px;top:546px;width:514px;height:2px;background:linear-gradient(90deg,#00f9ff 0px,#0cfbff 12px,#99fff5 124px,#e7fff2 202px,#fafff7 233px,#fffaea 273px,#ffdab2 338px,#ff8032 454px,#ff5c00 496px,#ff5900 513px)"></i>
<i style="left:376px;top:548px;width:516px;height:2px;background:linear-gradient(90deg,#00f7ff 0px,#0af9ff 11px,#7efff9 101px,#dafff2 187px,#fafff8 230px,#fffcee 267px,#ffe1be 326px,#ff8d46 438px,#ff5800 498px,#ff5600 515px)"></i>
<i style="left:376px;top:550px;width:518px;height:2px;background:linear-gradient(90deg,#00f6ff 0px,#0af7ff 11px,#84fffb 106px,#defff3 191px,#fbfff9 231px,#fffbee 268px,#ffdebc 329px,#ff8a45 441px,#ff5500 500px,#ff5300 517px)"></i>
<i style="left:376px;top:552px;width:520px;height:2px;background:linear-gradient(90deg,#00f4ff 0px,#09f5ff 10px,#8efffb 115px,#e3fff5 197px,#fcfffa 234px,#fff9ec 273px,#ffdcbb 331px,#ff8845 442px,#ff5200 501px,#ff5000 519px)"></i>
<i style="left:376px;top:554px;width:522px;height:2px;background:linear-gradient(90deg,#00f2ff 0px,#09f3ff 10px,#98fffc 124px,#e8fff6 202px,#fcfffa 235px,#fff9ec 273px,#ffd9b9 334px,#ff8a4c 438px,#ff4f00 503px,#ff4d00 521px)"></i>
<i style="left:376px;top:556px;width:524px;height:2px;background:linear-gradient(90deg,#00f0ff 0px,#07f1ff 9px,#97fffe 123px,#e8fff7 202px,#fdfffb 236px,#fff8ec 274px,#ffd0ae 346px,#ff884d 438px,#ff4c00 505px,#ff4a00 523px)"></i>
<i style="left:376px;top:558px;width:526px;height:2px;background:linear-gradient(90deg,#00eeff 0px,#07efff 9px,#98ffff 124px,#e9fff8 203px,#fdfffc 236px,#fff9ee 272px,#ffcead 349px,#ff7e44 448px,#ff4900 506px,#ff4700 525px)"></i>
<i style="left:376px;top:560px;width:528px;height:2px;background:linear-gradient(90deg,#00ecff 0px,#07edff 9px,#98fdff 124px,#e9fff9 204px,#fefffc 237px,#fff8ee 273px,#ffc5a3 360px,#ff682b 471px,#ff4600 508px,#ff4500 527px)"></i>
<i style="left:376px;top:562px;width:530px;height:2px;background:linear-gradient(90deg,#00ebff 0px,#06ecff 9px,#98fcff 124px,#e9fffa 204px,#fefffd 237px,#fff8ee 272px,#ffc5a6 358px,#ff6930 468px,#ff4300 510px,#ff4200 529px)"></i>
<i style="left:376px;top:564px;width:532px;height:2px;background:linear-gradient(90deg,#00e9ff 0px,#06eaff 9px,#97faff 124px,#e9fffb 204px,#fefffd 238px,#fff7ed 274px,#ffc5a8 357px,#ff6a34 466px,#ff4000 512px,#ff3f00 531px)"></i>
<i style="left:376px;top:566px;width:534px;height:2px;background:linear-gradient(90deg,#00e7ff 0px,#06e8ff 9px,#97f9ff 124px,#eafffd 205px,#fffffe 239px,#fff4eb 278px,#ffc2a8 359px,#ff6735 467px,#ff3d00 513px,#ff3c00 533px)"></i>
<i style="left:376px;top:568px;width:536px;height:2px;background:linear-gradient(90deg,#00e5ff 0px,#06e6ff 9px,#97f7ff 124px,#eafffe 205px,#fffffe 239px,#fff1e8 282px,#ffb99f 369px,#ff5b29 479px,#ff3a00 515px,#ff3a00 535px)"></i>
<i style="left:376px;top:570px;width:538px;height:2px;background:linear-gradient(90deg,#00e3ff 0px,#05e4ff 9px,#96f6ff 124px,#e9ffff 205px,#ffffff 239px,#ffede4 289px,#ffb299 377px,#ff5120 488px,#ff3800 517px,#ff3700 537px)"></i>
<i style="left:376px;top:572px;width:540px;height:2px;background:linear-gradient(90deg,#00e1ff 0px,#05e2ff 9px,#96f4ff 124px,#eafeff 206px,#ffffff 240px,#ffe7df 297px,#ffa991 387px,#ff4615 499px,#ff3500 518px,#ff3500 539px)"></i>
<i style="left:376px;top:574px;width:542px;height:2px;background:linear-gradient(90deg,#00e0ff 0px,#05e0ff 9px,#96f2ff 124px,#e9fdff 206px,#ffffff 240px,#ffe6e0 297px,#ffa893 386px,#ff4518 498px,#ff3200 520px,#ff3200 541px)"></i>
<i style="left:376px;top:576px;width:544px;height:2px;background:linear-gradient(90deg,#00deff 0px,#04deff 9px,#95f1ff 124px,#e9fbff 206px,#fffefe 241px,#ffe5e0 298px,#ffa793 387px,#ff4319 499px,#ff2f00 522px,#ff3000 543px)"></i>
<i style="left:376px;top:578px;width:546px;height:2px;background:linear-gradient(90deg,#00dcff 0px,#04dcff 9px,#95efff 124px,#e8faff 206px,#fffdfe 243px,#ffe0dc 304px,#ffa08e 394px,#ff3b11 507px,#ff2d00 524px,#ff2d00 545px)"></i>
<i style="left:376px;top:580px;width:548px;height:2px;background:linear-gradient(90deg,#00daff 0px,#05dbff 10px,#95edff 125px,#e8f9ff 206px,#fffcfe 245px,#ffdbd8 311px,#ff9886 403px,#ff3007 517px,#ff2b00 527px,#ff2b00 547px)"></i>
<i style="left:376px;top:582px;width:550px;height:2px;background:linear-gradient(90deg,#00d8ff 0px,#05d9ff 10px,#95ecff 125px,#e7f7ff 206px,#fffbfe 246px,#ffdbd9 310px,#ff9a8a 400px,#ff330d 513px,#ff2800 527px,#ff2900 549px)"></i>
<i style="left:376px;top:584px;width:552px;height:2px;background:linear-gradient(90deg,#00d6ff 0px,#04d7ff 10px,#93eaff 124px,#e4f5ff 204px,#fffafe 247px,#ffdada 309px,#ff9b8e 397px,#ff3614 509px,#ff2600 528px,#ff2700 551px)"></i>
<i style="left:376px;top:586px;width:554px;height:2px;background:linear-gradient(90deg,#00d4ff 0px,#04d5ff 10px,#93e8ff 124px,#e3f4ff 204px,#fff8fe 248px,#ffd8d9 311px,#ff988d 400px,#ff3413 511px,#ff2400 529px,#ff2500 553px)"></i>
<i style="left:376px;top:588px;width:556px;height:2px;background:linear-gradient(90deg,#00d3ff 0px,#05d3ff 11px,#93e7ff 125px,#e3f2ff 204px,#fff7fe 249px,#ffd5d6 316px,#ff8d82 412px,#ff2504 525px,#ff2200 540px,#ff2300 555px)"></i>
<i style="left:376px;top:590px;width:558px;height:2px;background:linear-gradient(90deg,#00d1ff 0px,#04d1ff 11px,#93e5ff 125px,#e1f0ff 203px,#fff5fe 250px,#ffd0d2 322px,#ff8277 424px,#ff1f00 532px,#ff2100 557px)"></i>
<i style="left:376px;top:592px;width:560px;height:2px;background:linear-gradient(90deg,#00cfff 0px,#04cfff 11px,#91e3ff 124px,#dfeeff 202px,#fff4fe 251px,#ffcccf 327px,#ff776c 435px,#ff1d00 533px,#ff1f00 559px)"></i>
<i style="left:376px;top:594px;width:562px;height:2px;background:linear-gradient(90deg,#00cdff 0px,#03cdff 11px,#90e1ff 124px,#ddecff 201px,#fff2fe 252px,#ffc8cc 332px,#ff6d62 446px,#ff1b00 535px,#ff1d00 561px)"></i>
<i style="left:376px;top:596px;width:564px;height:2px;background:linear-gradient(90deg,#00cbff 0px,#04cbff 12px,#90dfff 125px,#dcebff 201px,#fff1fe 252px,#ffc4c9 337px,#ff6257 457px,#ff1900 536px,#ff1b00 563px)"></i>
<i style="left:376px;top:598px;width:566px;height:2px;background:linear-gradient(90deg,#00c9ff 0px,#03c9ff 12px,#8fddff 124px,#dae8ff 200px,#fff0ff 252px,#ffc0c6 341px,#ff574d 467px,#ff1700 537px,#ff1900 565px)"></i>
<i style="left:376px;top:600px;width:568px;height:2px;background:linear-gradient(90deg,#00c8ff 0px,#03c7ff 12px,#8edbff 124px,#d8e6ff 199px,#ffeeff 253px,#ffbcc3 346px,#ff5850 465px,#ff1500 538px,#ff1700 567px)"></i>
<i style="left:376px;top:602px;width:570px;height:2px;background:linear-gradient(90deg,#00c6ff 0px,#04c5ff 13px,#8dd9ff 124px,#d6e4ff 198px,#feedff 253px,#ffbbc4 346px,#ff7270 434px,#ff1300 539px,#ff1500 569px)"></i>
<i style="left:376px;top:604px;width:572px;height:2px;background:linear-gradient(90deg,#00c4ff 0px,#03c3ff 13px,#8cd8ff 124px,#d5e2ff 198px,#feebff 253px,#ffbac5 345px,#ff7b7d 423px,#ff1000 540px,#ff1300 571px)"></i>
<i style="left:376px;top:606px;width:574px;height:2px;background:linear-gradient(90deg,#00c2ff 0px,#03c1ff 13px,#8cd6ff 124px,#d3e0ff 197px,#fdeaff 253px,#ffbecb 337px,#ff8287 415px,#ff0e00 541px,#ff1200 573px)"></i>
<i style="left:376px;top:608px;width:576px;height:2px;background:linear-gradient(90deg,#00c0ff 0px,#03bfff 14px,#8bd4ff 124px,#d2deff 197px,#fce8ff 253px,#ffc8da 316px,#ff949d 394px,#ff0c00 542px,#ff1000 575px)"></i>
<i style="left:376px;top:610px;width:578px;height:2px;background:linear-gradient(90deg,#00beff 0px,#03bdff 14px,#8ad2ff 124px,#d1dcff 197px,#fbe6ff 253px,#ffdaf2 280px,#ff9ca8 382px,#ff5153 466px,#ff0a00 542px,#ff0e00 577px)"></i>
<i style="left:376px;top:612px;width:580px;height:2px;background:linear-gradient(90deg,#00bdff 0px,#03bbff 15px,#89d0ff 124px,#d0dbff 198px,#fbe4ff 254px,#ffdaf5 277px,#ff98a5 386px,#ff4c4f 471px,#ff0800 543px,#ff0c00 579px)"></i>
<i style="left:376px;top:614px;width:582px;height:2px;background:linear-gradient(90deg,#00bbff 0px,#03b9ff 15px,#88ceff 124px,#cfd9ff 198px,#fae2ff 254px,#ffdcf9 271px,#ff98a8 384px,#ff4e53 469px,#ff0600 544px,#ff0b00 581px)"></i>
<i style="left:376px;top:616px;width:584px;height:2px;background:linear-gradient(90deg,#00b9ff 0px,#03b7ff 16px,#87ccff 124px,#cfd8ff 199px,#f9e1ff 254px,#ffdbfa 270px,#ff96a7 385px,#ff4d53 470px,#ff0400 544px,#ff0900 583px)"></i>
<i style="left:376px;top:618px;width:586px;height:2px;background:linear-gradient(90deg,#00b7ff 0px,#03b5ff 16px,#86caff 124px,#cfd7ff 201px,#f9dfff 255px,#ffd9fa 271px,#ff92a4 389px,#ff4850 475px,#ff0200 544px,#ff0700 585px)"></i>
<i style="left:376px;top:620px;width:588px;height:2px;background:linear-gradient(90deg,#00b5ff 0px,#03b3ff 17px,#85c8ff 124px,#cfd5ff 202px,#f9ddff 256px,#ffd7fa 272px,#ff8ea2 392px,#ff434d 479px,#ff0000 545px,#ff0600 587px)"></i>
<i style="left:376px;top:622px;width:590px;height:2px;background:linear-gradient(90deg,#00b4ff 0px,#03b1ff 17px,#84c6ff 124px,#d0d4ff 204px,#f8daff 257px,#ffd4fa 273px,#ff899f 396px,#ff3e48 484px,#ff0002 545px,#ff0400 589px)"></i>
<i style="left:376px;top:624px;width:592px;height:2px;background:linear-gradient(90deg,#00b2ff 0px,#03afff 18px,#83c3ff 124px,#cfd3ff 205px,#f8d8ff 258px,#ffd2fb 274px,#ff869d 399px,#ff3945 488px,#ff0004 545px,#ff0300 591px)"></i>
<i style="left:376px;top:626px;width:594px;height:2px;background:linear-gradient(90deg,#00b0ff 0px,#02adff 18px,#82c1ff 124px,#cfd2ff 206px,#f8d6ff 259px,#ffd1fb 274px,#ff829b 402px,#ff3644 491px,#ff0006 545px,#ff0100 593px)"></i>
<i style="left:376px;top:628px;width:596px;height:2px;background:linear-gradient(90deg,#00aeff 0px,#03abff 19px,#81bfff 124px,#cdd0ff 206px,#f8d4ff 260px,#ffcefb 275px,#ff7d98 406px,#ff303f 496px,#ff0008 545px,#ff0000 595px)"></i>
<i style="left:376px;top:630px;width:598px;height:2px;background:linear-gradient(90deg,#00adff 0px,#04a9ff 20px,#80bdff 124px,#ccceff 206px,#f7d2ff 260px,#ffccfb 276px,#ff7996 409px,#ff2c3c 500px,#ff000a 545px,#ff0002 597px)"></i>
<i style="left:376px;top:632px;width:600px;height:2px;background:linear-gradient(90deg,#00abff 0px,#03a7ff 20px,#7fbbff 124px,#cbccff 206px,#f7d0ff 261px,#ffcafb 277px,#ff7492 413px,#ff2739 504px,#ff000c 545px,#ff0003 599px)"></i>
<i style="left:376px;top:634px;width:602px;height:2px;background:linear-gradient(90deg,#00a9ff 0px,#03a5ff 21px,#7eb9ff 124px,#c9caff 205px,#f5ceff 261px,#ffc7fb 278px,#ff6f8f 417px,#ff2135 509px,#ff000f 544px,#ff0005 601px)"></i>
<i style="left:376px;top:636px;width:604px;height:2px;background:linear-gradient(90deg,#00a7ff 0px,#02a3ff 21px,#7db7ff 124px,#c7c8ff 205px,#f5cbff 262px,#ffc5fb 279px,#ff6b8d 420px,#ff1c31 513px,#ff0011 544px,#ff0006 603px)"></i>
<i style="left:376px;top:638px;width:606px;height:2px;background:linear-gradient(90deg,#00a5ff 0px,#03a1ff 22px,#7cb4ff 124px,#c5c6ff 204px,#f4c9ff 262px,#ffc3fc 279px,#ff678b 423px,#ff172e 517px,#ff0013 543px,#ff0008 605px)"></i>
<i style="left:376px;top:640px;width:607px;height:2px;background:linear-gradient(90deg,#00a4ff 0px,#039fff 23px,#7cb2ff 125px,#c4c5ff 204px,#f3c7ff 262px,#ffc0fc 280px,#ff6288 427px,#ff122b 521px,#ff0015 543px,#ff0009 606px)"></i>
<i style="left:376px;top:642px;width:603px;height:2px;background:linear-gradient(90deg,#00a2ff 0px,#039dff 23px,#7ab0ff 124px,#c1c2ff 202px,#f2c5ff 262px,#ffbefc 281px,#ff5d84 431px,#ff0c26 526px,#ff0017 542px,#ff000c 602px)"></i>
<i style="left:376px;top:644px;width:599px;height:2px;background:linear-gradient(90deg,#00a0ff 0px,#039bff 24px,#7aaeff 125px,#c0c0ff 202px,#f2c3ff 263px,#ffbcfc 282px,#ff5881 435px,#ff0622 531px,#ff0019 544px,#ff000e 598px)"></i>
<i style="left:376px;top:646px;width:594px;height:2px;background:linear-gradient(90deg,#009fff 0px,#0299ff 24px,#79acff 125px,#bebeff 201px,#f0c0ff 263px,#ffb9fc 283px,#ff537e 439px,#ff001c 540px,#ff0011 593px)"></i>
<i style="left:376px;top:648px;width:590px;height:2px;background:linear-gradient(90deg,#009dff 0px,#0397ff 25px,#77aaff 125px,#bcbcff 200px,#eebeff 262px,#ffb6fd 284px,#ff4e7b 443px,#ff001e 538px,#ff0013 589px)"></i>
<i style="left:376px;top:650px;width:586px;height:2px;background:linear-gradient(90deg,#009bff 0px,#0395ff 26px,#77a7ff 126px,#babaff 199px,#ecbcff 261px,#ffb3fc 286px,#ff4977 447px,#ff0021 537px,#ff0016 585px)"></i>
<i style="left:376px;top:652px;width:582px;height:2px;background:linear-gradient(90deg,#0099ff 0px,#0393ff 27px,#76a5ff 126px,#b7b8ff 198px,#eabaff 260px,#ffb1fd 286px,#ff4374 451px,#ff0023 535px,#ff0018 581px)"></i>
<i style="left:376px;top:654px;width:577px;height:2px;background:linear-gradient(90deg,#0098ff 0px,#0290ff 27px,#75a3ff 126px,#b5b6ff 196px,#e6b8ff 257px,#ffaffd 287px,#ff3f72 454px,#ff0026 533px,#ff001b 576px)"></i>
<i style="left:376px;top:656px;width:573px;height:2px;background:linear-gradient(90deg,#0096ff 0px,#038eff 28px,#75a1ff 127px,#b3b4ff 195px,#e4b6ff 256px,#ffacfc 289px,#ff396e 459px,#ff0028 532px,#ff001e 572px)"></i>
<i style="left:376px;top:658px;width:569px;height:2px;background:linear-gradient(90deg,#0094ff 0px,#038cff 29px,#759fff 128px,#b1b2ff 195px,#e1b4ff 255px,#ffa9fc 290px,#ff346a 463px,#ff002b 530px,#ff0021 568px)"></i>
<i style="left:376px;top:660px;width:564px;height:2px;background:linear-gradient(90deg,#0093ff 0px,#028aff 29px,#749dff 128px,#aeb0ff 193px,#ddb2ff 252px,#ffa6fc 291px,#ff316b 463px,#ff002e 527px,#ff0024 563px)"></i>
<i style="left:376px;top:662px;width:560px;height:2px;background:linear-gradient(90deg,#0091ff 0px,#0388ff 30px,#749aff 129px,#adaeff 193px,#dbb0ff 251px,#ffa3fc 292px,#ff306c 462px,#ff0031 525px,#ff0027 559px)"></i>
<i style="left:376px;top:664px;width:556px;height:2px;background:linear-gradient(90deg,#008fff 0px,#0386ff 31px,#7398ff 130px,#ababff 192px,#d7aeff 248px,#ffa1fd 293px,#ff2d6c 462px,#ff0034 523px,#ff002a 555px)"></i>
<i style="left:376px;top:666px;width:551px;height:2px;background:linear-gradient(90deg,#008eff 0px,#0384ff 32px,#7397ff 131px,#a9a9ff 191px,#d4acff 246px,#ff9efd 294px,#ff2a6c 463px,#ff0037 520px,#ff002d 550px)"></i>
<i style="left:376px;top:668px;width:547px;height:2px;background:linear-gradient(90deg,#008cff 0px,#0281ff 32px,#7395ff 132px,#a6a7ff 190px,#d0a9ff 243px,#ff9cfe 293px,#ff2b71 458px,#ff003a 518px,#ff0030 546px)"></i>
<i style="left:376px;top:670px;width:543px;height:2px;background:linear-gradient(90deg,#008aff 0px,#027fff 33px,#7394ff 133px,#a4a5ff 189px,#cca7ff 240px,#fe9aff 292px,#ff66bc 373px,#ff0848 501px,#ff003c 517px,#ff0034 542px)"></i>
<i style="left:376px;top:672px;width:538px;height:2px;background:linear-gradient(90deg,#0089ff 0px,#037dff 34px,#7493ff 135px,#a3a3ff 189px,#c8a5ff 237px,#fa99ff 290px,#ff92f8 304px,#ff0b50 494px,#ff0040 513px,#ff0037 537px)"></i>
<i style="left:376px;top:674px;width:534px;height:2px;background:linear-gradient(90deg,#0087ff 0px,#037bff 35px,#7491ff 136px,#a0a1ff 188px,#c3a3ff 233px,#f798ff 288px,#ff91fb 301px,#ff145f 479px,#ff0043 509px,#ff003b 533px)"></i>
<i style="left:376px;top:676px;width:530px;height:2px;background:linear-gradient(90deg,#0086ff 0px,#0379ff 36px,#7590ff 138px,#aca2ff 204px,#dd9dff 263px,#ff8ffc 300px,#ff1867 471px,#ff0047 506px,#ff003e 529px)"></i>
<i style="left:376px;top:678px;width:526px;height:2px;background:linear-gradient(90deg,#0084ff 0px,#0277ff 36px,#738eff 138px,#aba0ff 204px,#db9bff 262px,#ff8cfd 301px,#ff3790 425px,#ff004a 503px,#ff0041 525px)"></i>
<i style="left:377px;top:680px;width:520px;height:2px;background:linear-gradient(90deg,#0082ff 0px,#0275ff 36px,#6f8cff 134px,#9a9aff 184px,#b99cff 225px,#f391ff 286px,#ff89fc 302px,#ff328d 428px,#ff004e 498px,#ff0045 519px)"></i>
<i style="left:377px;top:682px;width:516px;height:2px;background:linear-gradient(90deg,#0080ff 0px,#0273ff 37px,#6c89ff 132px,#9798ff 182px,#b69aff 223px,#f18eff 286px,#ff86fc 303px,#ff399a 414px,#ff0052 495px,#ff0049 515px)"></i>
<i style="left:378px;top:684px;width:511px;height:2px;background:linear-gradient(90deg,#007fff 0px,#0370ff 37px,#6987ff 129px,#9596ff 180px,#b298ff 220px,#f08cff 285px,#ff83fc 303px,#ff3b9f 408px,#ff0056 491px,#ff004d 510px)"></i>
<i style="left:378px;top:686px;width:506px;height:2px;background:linear-gradient(90deg,#007dff 0px,#036eff 38px,#6584ff 126px,#9294ff 178px,#af96ff 218px,#ef89ff 285px,#ff80fc 304px,#ff3aa1 406px,#ff005a 487px,#ff0051 505px)"></i>
<i style="left:379px;top:688px;width:501px;height:2px;background:linear-gradient(90deg,#007bff 0px,#036cff 38px,#6381ff 124px,#9091ff 176px,#ad93ff 216px,#ed87ff 284px,#ff7dfc 304px,#ff39a4 403px,#ff005d 483px,#ff0055 500px)"></i>
<i style="left:379px;top:690px;width:497px;height:2px;background:linear-gradient(90deg,#0079ff 0px,#036aff 39px,#5e7fff 121px,#8d8fff 174px,#aa91ff 214px,#eb85ff 283px,#ff7afc 305px,#ff37a5 402px,#ff0060 479px,#ff0059 496px)"></i>
<i style="left:380px;top:692px;width:491px;height:2px;background:linear-gradient(90deg,#0078ff 0px,#0368ff 39px,#5c7cff 119px,#8b8dff 172px,#a88fff 212px,#e783ff 279px,#ff77fc 305px,#ff35a6 401px,#ff0063 475px,#ff005d 490px)"></i>
<i style="left:381px;top:694px;width:486px;height:2px;background:linear-gradient(90deg,#0076ff 0px,#0266ff 38px,#597aff 116px,#898bff 170px,#a68dff 210px,#e381ff 276px,#ff74fd 305px,#ff32a7 400px,#ff0066 471px,#ff0060 485px)"></i>
<i style="left:381px;top:696px;width:482px;height:2px;background:linear-gradient(90deg,#0074ff 0px,#0263ff 39px,#5677ff 114px,#8688ff 168px,#a48bff 209px,#e17fff 275px,#ff71fd 306px,#ff30a7 400px,#ff006a 467px,#ff0064 481px)"></i>
<i style="left:382px;top:698px;width:476px;height:2px;background:linear-gradient(90deg,#0072ff 0px,#0261ff 39px,#5475ff 112px,#8486ff 166px,#a189ff 206px,#dc7dff 271px,#ff6efd 306px,#ff2da7 400px,#ff006d 463px,#ff0068 475px)"></i>
<i style="left:382px;top:700px;width:472px;height:2px;background:linear-gradient(90deg,#0071ff 0px,#025fff 40px,#5173ff 111px,#8284ff 165px,#9f86ff 205px,#db7bff 271px,#ff6afc 308px,#ff29a6 402px,#ff0071 459px,#ff006b 471px)"></i>
<i style="left:383px;top:702px;width:467px;height:2px;background:linear-gradient(90deg,#006fff 0px,#025dff 40px,#5171ff 111px,#8082ff 164px,#9c84ff 203px,#d878ff 269px,#ff67fc 308px,#ff25a6 402px,#ff0074 455px,#ff006f 466px)"></i>
<i style="left:384px;top:704px;width:462px;height:2px;background:linear-gradient(90deg,#006dff 0px,#035bff 40px,#5070ff 110px,#7e7fff 162px,#9a82ff 201px,#d776ff 268px,#ff64fc 308px,#ff23a7 401px,#ff0078 451px,#ff0073 461px)"></i>
<i style="left:384px;top:706px;width:457px;height:2px;background:linear-gradient(90deg,#006bff 0px,#0359ff 41px,#536fff 114px,#7c7dff 162px,#9880ff 200px,#d473ff 267px,#ff61fc 309px,#ff20a6 402px,#ff007c 447px,#ff0077 456px)"></i>
<i style="left:385px;top:708px;width:452px;height:2px;background:linear-gradient(90deg,#0069ff 0px,#0357ff 41px,#5a70ff 121px,#8f7fff 187px,#b677ff 237px,#f962ff 301px,#ff5cfa 312px,#ff19a2 406px,#ff007f 443px,#ff007b 451px)"></i>
<i style="left:385px;top:710px;width:448px;height:2px;background:linear-gradient(90deg,#0068ff 0px,#0354ff 42px,#6874ff 137px,#907cff 191px,#bc73ff 246px,#ff5bfe 309px,#ff19a6 403px,#ff0083 440px,#ff007f 447px)"></i>
<i style="left:386px;top:712px;width:442px;height:2px;background:linear-gradient(90deg,#0066ff 0px,#0352ff 42px,#6672ff 136px,#8e7aff 190px,#bb70ff 245px,#ff59ff 308px,#ff13a3 406px,#ff0087 436px,#ff0084 441px)"></i>
<i style="left:387px;top:714px;width:437px;height:2px;background:linear-gradient(90deg,#0064ff 0px,#0350ff 42px,#6470ff 134px,#8c77ff 188px,#b66eff 241px,#fb57ff 305px,#ff47eb 331px,#ff008b 431px,#ff0088 436px)"></i>
<i style="left:387px;top:716px;width:433px;height:2px;background:linear-gradient(90deg,#0063ff 0px,#034eff 43px,#626eff 133px,#8a75ff 187px,#b26cff 238px,#f955ff 304px,#ff4ffa 315px,#ff0ba0 409px,#ff008e 429px,#ff008c 432px)"></i>
<i style="left:388px;top:718px;width:427px;height:2px;background:linear-gradient(90deg,#0061ff 0px,#034cff 43px,#606cff 132px,#8873ff 186px,#b16aff 237px,#f852ff 303px,#ff4cfb 314px,#ff09a1 408px,#ff0092 425px,#ff0091 426px)"></i>
<i style="left:389px;top:720px;width:422px;height:2px;background:linear-gradient(90deg,#005fff 0px,#034aff 43px,#5e6aff 130px,#8670ff 184px,#ad67ff 234px,#f650ff 302px,#ff49fb 314px,#ff05a1 408px,#ff0096 421px)"></i>
<i style="left:389px;top:722px;width:418px;height:2px;background:linear-gradient(90deg,#005dff 0px,#0348ff 44px,#5d68ff 130px,#836eff 183px,#aa65ff 232px,#f44dff 301px,#ff46fc 314px,#ff02a1 409px,#ff009a 417px)"></i>
<i style="left:390px;top:724px;width:413px;height:2px;background:linear-gradient(90deg,#005bff 0px,#0346ff 44px,#5a66ff 128px,#816cff 181px,#a663ff 229px,#f14bff 299px,#ff43fc 314px,#ff00a0 411px,#ff009f 412px)"></i>
<i style="left:390px;top:726px;width:408px;height:2px;background:linear-gradient(90deg,#005aff 0px,#0344ff 45px,#5863ff 127px,#8069ff 181px,#a560ff 229px,#f148ff 300px,#ff40fc 315px,#ff00a5 407px)"></i>
<i style="left:391px;top:728px;width:403px;height:2px;background:linear-gradient(90deg,#0058ff 0px,#0343ff 45px,#5761ff 126px,#7d67ff 179px,#a15eff 226px,#e44aff 289px,#ff3cfc 315px,#ff00aa 402px)"></i>
<i style="left:392px;top:730px;width:398px;height:2px;background:linear-gradient(90deg,#0056ff 0px,#0341ff 45px,#545fff 124px,#7b65ff 177px,#9e5bff 223px,#db4aff 281px,#ff39fc 315px,#ff00af 397px)"></i>
<i style="left:392px;top:732px;width:393px;height:2px;background:linear-gradient(90deg,#0055ff 0px,#0340ff 46px,#535dff 124px,#7962ff 177px,#9d59ff 224px,#db47ff 283px,#ff36fc 316px,#ff00b4 392px)"></i>
<i style="left:393px;top:734px;width:388px;height:2px;background:linear-gradient(90deg,#0053ff 0px,#033eff 46px,#515bff 122px,#7760ff 175px,#9b56ff 222px,#d546ff 278px,#ff32fc 316px,#ff00ba 387px)"></i>
<i style="left:394px;top:736px;width:383px;height:2px;background:linear-gradient(90deg,#0051ff 0px,#033dff 46px,#4e58ff 120px,#755eff 173px,#9754ff 219px,#d044ff 274px,#ff2ffd 316px,#ff00bf 382px)"></i>
<i style="left:395px;top:738px;width:377px;height:2px;background:linear-gradient(90deg,#004fff 0px,#033bff 46px,#4d56ff 119px,#725cff 171px,#9551ff 217px,#ce41ff 272px,#ff2bfd 316px,#ff02c5 376px)"></i>
<i style="left:395px;top:740px;width:373px;height:2px;background:linear-gradient(90deg,#004eff 0px,#033aff 47px,#4a54ff 118px,#7159ff 171px,#934fff 217px,#cb3fff 271px,#ff28fd 317px,#ff02c9 372px)"></i>
<i style="left:396px;top:742px;width:368px;height:2px;background:linear-gradient(90deg,#004cff 0px,#0338ff 47px,#4952ff 117px,#6e57ff 169px,#914cff 215px,#c83cff 269px,#ff24fc 318px,#ff02ce 367px)"></i>
<i style="left:397px;top:744px;width:362px;height:2px;background:linear-gradient(90deg,#004aff 0px,#0337ff 47px,#4750ff 115px,#6c54ff 167px,#8e4aff 213px,#c53aff 267px,#ff20fc 318px,#ff03d4 361px)"></i>
<i style="left:397px;top:746px;width:358px;height:2px;background:linear-gradient(90deg,#0049ff 0px,#0335ff 48px,#454eff 115px,#6a52ff 167px,#8c47ff 213px,#c437ff 267px,#ff1dfc 319px,#ff03d9 357px)"></i>
<i style="left:398px;top:748px;width:353px;height:2px;background:linear-gradient(90deg,#0047ff 0px,#0334ff 48px,#434bff 113px,#6850ff 165px,#8a44ff 211px,#c135ff 265px,#ff1afc 319px,#ff03dd 352px)"></i>
<i style="left:399px;top:750px;width:348px;height:2px;background:linear-gradient(90deg,#0045ff 0px,#0332ff 48px,#4149ff 112px,#664dff 163px,#8742ff 209px,#be32ff 263px,#ff16fd 319px,#ff03e2 347px)"></i>
<i style="left:399px;top:752px;width:343px;height:2px;background:linear-gradient(90deg,#0044ff 0px,#0331ff 49px,#3f47ff 111px,#644bff 162px,#863fff 209px,#be2fff 264px,#ff13fd 320px,#ff04e8 342px)"></i>
<i style="left:400px;top:754px;width:338px;height:2px;background:linear-gradient(90deg,#0043ff 0px,#0330ff 49px,#3d45ff 110px,#6248ff 161px,#833dff 207px,#bb2cff 262px,#ff0efc 321px,#ff04ed 337px)"></i>
<i style="left:401px;top:756px;width:333px;height:2px;background:linear-gradient(90deg,#0041ff 0px,#032eff 49px,#3b42ff 109px,#5f46ff 159px,#803aff 205px,#b929ff 261px,#ff0bfc 321px,#ff04f2 332px)"></i>
<i style="left:402px;top:758px;width:327px;height:2px;background:linear-gradient(90deg,#0040ff 0px,#032dff 49px,#3940ff 107px,#5d44ff 157px,#7f37ff 204px,#b826ff 260px,#ff07fc 321px,#ff04f8 326px)"></i>
<i style="left:402px;top:760px;width:323px;height:2px;background:linear-gradient(90deg,#003fff 0px,#022bff 50px,#373eff 107px,#5b41ff 156px,#7c35ff 203px,#b524ff 259px,#ff04fc 322px)"></i>
<i style="left:403px;top:762px;width:318px;height:2px;background:linear-gradient(90deg,#003eff 0px,#022aff 50px,#363cff 106px,#593fff 155px,#7a32ff 202px,#b321ff 258px,#fb03ff 317px)"></i>
<i style="left:404px;top:764px;width:312px;height:2px;background:linear-gradient(90deg,#003dff 0px,#0228ff 50px,#3439ff 105px,#573dff 153px,#782fff 200px,#b11eff 257px,#f303ff 311px)"></i>
<i style="left:405px;top:766px;width:307px;height:2px;background:linear-gradient(90deg,#003bff 0px,#0327ff 51px,#3237ff 104px,#543aff 151px,#752dff 198px,#b01bff 256px,#ed03ff 306px)"></i>
<i style="left:405px;top:768px;width:303px;height:2px;background:linear-gradient(90deg,#003bff 0px,#0326ff 52px,#3035ff 104px,#5238ff 150px,#732aff 198px,#ae18ff 256px,#e602ff 302px)"></i>
<i style="left:406px;top:770px;width:297px;height:2px;background:linear-gradient(90deg,#0039ff 0px,#0324ff 52px,#2f33ff 103px,#5035ff 149px,#7227ff 197px,#ac15ff 255px,#df02ff 296px)"></i>
<i style="left:407px;top:772px;width:292px;height:2px;background:linear-gradient(90deg,#0038ff 0px,#0223ff 52px,#2d30ff 102px,#4e33ff 147px,#6f25ff 195px,#ab12ff 254px,#d801ff 291px)"></i>
<i style="left:408px;top:774px;width:287px;height:2px;background:linear-gradient(90deg,#0037ff 0px,#0321ff 53px,#2b2eff 101px,#4c31ff 145px,#6d22ff 193px,#a90fff 253px,#d100ff 286px)"></i>
<i style="left:408px;top:776px;width:283px;height:2px;background:linear-gradient(90deg,#0036ff 0px,#0320ff 54px,#292bff 101px,#492eff 144px,#6b1fff 193px,#a70cff 253px,#cb00ff 282px)"></i>
<i style="left:409px;top:778px;width:277px;height:2px;background:linear-gradient(90deg,#0035ff 0px,#031eff 54px,#2829ff 101px,#462cff 141px,#681dff 191px,#a509ff 252px,#c300ff 276px)"></i>
<i style="left:410px;top:780px;width:272px;height:2px;background:linear-gradient(90deg,#0034ff 0px,#031dff 55px,#2627ff 100px,#442aff 139px,#661aff 189px,#a406ff 251px,#bd00ff 271px)"></i>
<i style="left:411px;top:782px;width:267px;height:2px;background:linear-gradient(90deg,#0032ff 0px,#031cff 55px,#3d28ff 130px,#6318ff 187px,#a203ff 250px,#b700ff 266px)"></i>
<i style="left:412px;top:784px;width:261px;height:2px;background:linear-gradient(90deg,#0031ff 0px,#021aff 55px,#3c26ff 130px,#6115ff 186px,#a000ff 249px,#af00ff 260px)"></i>
<i style="left:412px;top:786px;width:257px;height:2px;background:linear-gradient(90deg,#0030ff 0px,#0319ff 57px,#3a23ff 130px,#5f12ff 186px,#9a00ff 245px,#a900ff 256px)"></i>
<i style="left:413px;top:788px;width:252px;height:2px;background:linear-gradient(90deg,#002fff 0px,#0317ff 58px,#3821ff 129px,#5d10ff 184px,#9600ff 241px,#a300ff 251px)"></i>
<i style="left:414px;top:790px;width:246px;height:2px;background:linear-gradient(90deg,#002eff 0px,#0316ff 58px,#361eff 127px,#5b0dff 183px,#8c00ff 233px,#9c00ff 245px)"></i>
<i style="left:415px;top:792px;width:241px;height:2px;background:linear-gradient(90deg,#002dff 0px,#0314ff 59px,#341cff 126px,#590aff 182px,#8400ff 225px,#9600ff 240px)"></i>
<i style="left:416px;top:794px;width:236px;height:2px;background:linear-gradient(90deg,#002cff 0px,#0312ff 60px,#3319ff 125px,#5707ff 180px,#7c00ff 217px,#9000ff 235px)"></i>
<i style="left:417px;top:796px;width:230px;height:2px;background:linear-gradient(90deg,#002bff 0px,#0311ff 61px,#2418ff 106px,#450bff 160px,#6e00ff 204px,#8a00ff 229px)"></i>
<i style="left:418px;top:798px;width:225px;height:2px;background:linear-gradient(90deg,#0029ff 0px,#030fff 62px,#2115ff 103px,#400aff 153px,#6400ff 194px,#8500ff 224px)"></i>
<i style="left:418px;top:800px;width:221px;height:2px;background:linear-gradient(90deg,#0029ff 0px,#030dff 64px,#1d13ff 101px,#3c09ff 149px,#5900ff 184px,#8100ff 220px)"></i>
<i style="left:419px;top:802px;width:216px;height:2px;background:linear-gradient(90deg,#0028ff 0px,#030bff 66px,#1c10ff 100px,#3b06ff 149px,#5200ff 177px,#7c00ff 215px)"></i>
<i style="left:420px;top:804px;width:210px;height:2px;background:linear-gradient(90deg,#0026ff 0px,#0309ff 68px,#290cff 120px,#4500ff 164px,#7600ff 209px)"></i>
<i style="left:421px;top:806px;width:205px;height:2px;background:linear-gradient(90deg,#0025ff 0px,#0307ff 70px,#270aff 118px,#4100ff 159px,#7200ff 204px)"></i>
<i style="left:422px;top:808px;width:200px;height:2px;background:linear-gradient(90deg,#0024ff 0px,#0305ff 73px,#2408ff 115px,#3f00ff 155px,#6e00ff 199px)"></i>
<i style="left:423px;top:810px;width:194px;height:2px;background:linear-gradient(90deg,#0023ff 0px,#0302ff 75px,#2105ff 113px,#4000ff 155px,#6800ff 193px)"></i>
<i style="left:424px;top:812px;width:189px;height:2px;background:linear-gradient(90deg,#0022ff 0px,#0301ff 76px,#2002ff 114px,#5100ff 170px,#6400ff 188px)"></i>
<i style="left:425px;top:814px;width:184px;height:2px;background:linear-gradient(90deg,#0021ff 0px,#0300ff 76px,#4d00ff 165px,#6000ff 183px)"></i>
<i style="left:426px;top:816px;width:178px;height:2px;background:linear-gradient(90deg,#0020ff 0px,#0300ff 74px,#4d00ff 164px,#5b00ff 177px)"></i>
<i style="left:427px;top:818px;width:173px;height:2px;background:linear-gradient(90deg,#001fff 0px,#0300ff 72px,#4d00ff 163px,#5700ff 172px)"></i>
<i style="left:428px;top:820px;width:168px;height:2px;background:linear-gradient(90deg,#001eff 0px,#0300ff 70px,#4e00ff 162px,#5300ff 167px)"></i>
<i style="left:429px;top:822px;width:162px;height:2px;background:linear-gradient(90deg,#001dff 0px,#0300ff 68px,#4d00ff 160px,#4e00ff 161px)"></i>
<i style="left:430px;top:824px;width:157px;height:2px;background:linear-gradient(90deg,#001cff 0px,#0300ff 66px,#4a00ff 156px)"></i>
<i style="left:431px;top:826px;width:152px;height:2px;background:linear-gradient(90deg,#001bff 0px,#0300ff 64px,#4600ff 151px)"></i>
<i style="left:433px;top:828px;width:146px;height:2px;background:linear-gradient(90deg,#0019ff 0px,#0300ff 61px,#4300ff 145px)"></i>
<i style="left:434px;top:830px;width:140px;height:2px;background:linear-gradient(90deg,#0018ff 0px,#0300ff 59px,#3e00ff 139px)"></i>
<i style="left:435px;top:832px;width:135px;height:2px;background:linear-gradient(90deg,#0017ff 0px,#0300ff 58px,#3b00ff 134px)"></i>
<i style="left:436px;top:834px;width:130px;height:2px;background:linear-gradient(90deg,#0016ff 0px,#0300ff 56px,#3900ff 129px)"></i>
<i style="left:438px;top:836px;width:123px;height:2px;background:linear-gradient(90deg,#0015ff 0px,#0300ff 53px,#3500ff 122px)"></i>
<i style="left:439px;top:838px;width:118px;height:2px;background:linear-gradient(90deg,#0014ff 0px,#0300ff 51px,#3200ff 117px)"></i>
<i style="left:440px;top:840px;width:113px;height:2px;background:linear-gradient(90deg,#0013ff 0px,#0300ff 49px,#3000ff 112px)"></i>
<i style="left:442px;top:842px;width:106px;height:2px;background:linear-gradient(90deg,#0011ff 0px,#0300ff 46px,#2c00ff 105px)"></i>
<i style="left:443px;top:844px;width:101px;height:2px;background:linear-gradient(90deg,#0010ff 0px,#0300ff 44px,#2a00ff 100px)"></i>
<i style="left:445px;top:846px;width:95px;height:2px;background:linear-gradient(90deg,#000fff 0px,#0400ff 42px,#2700ff 94px)"></i>
<i style="left:447px;top:848px;width:89px;height:2px;background:linear-gradient(90deg,#000eff 0px,#0400ff 39px,#2500ff 88px)"></i>
<i style="left:448px;top:850px;width:83px;height:2px;background:linear-gradient(90deg,#000dff 0px,#0400ff 37px,#2200ff 82px)"></i>
<i style="left:450px;top:852px;width:77px;height:2px;background:linear-gradient(90deg,#000bff 0px,#0400ff 35px,#1f00ff 76px)"></i>
<i style="left:452px;top:854px;width:71px;height:2px;background:linear-gradient(90deg,#000aff 0px,#0400ff 32px,#1d00ff 70px)"></i>
<i style="left:454px;top:856px;width:64px;height:2px;background:linear-gradient(90deg,#0009ff 0px,#0400ff 30px,#1a00ff 63px)"></i>
<i style="left:456px;top:858px;width:58px;height:2px;background:linear-gradient(90deg,#0007ff 0px,#0500ff 28px,#1800ff 57px)"></i>
<i style="left:459px;top:860px;width:51px;height:2px;background:linear-gradient(90deg,#0006ff 0px,#0500ff 25px,#1600ff 50px)"></i>
<i style="left:461px;top:862px;width:44px;height:2px;background:linear-gradient(90deg,#0004ff 0px,#0700ff 25px,#1300ff 43px)"></i>
<i style="left:463px;top:864px;width:38px;height:2px;background:linear-gradient(90deg,#0003ff 0px,#0e00ff 32px,#1100ff 37px)"></i>
<i style="left:466px;top:866px;width:31px;height:2px;background:linear-gradient(90deg,#0001ff 0px,#0f00ff 30px)"></i>
<i style="left:468px;top:868px;width:24px;height:2px;background:linear-gradient(90deg,#0000ff 0px,#0c00ff 23px)"></i>
<i style="left:470px;top:870px;width:18px;height:2px;background:linear-gradient(90deg,#0100ff 0px,#0a00ff 17px)"></i>
<i style="left:472px;top:872px;width:12px;height:2px;background:linear-gradient(90deg,#0200ff 0px,#0800ff 11px)"></i>
<i style="left:-2px;top:874px;width:5px;height:2px;background:linear-gradient(90deg,#007aff 0px,#007aff 4px)"></i>
<i style="left:-2px;top:876px;width:5px;height:2px;background:linear-gradient(90deg,#007aff 0px,#0079ff 4px)"></i>
<i style="left:-2px;top:878px;width:5px;height:2px;background:linear-gradient(90deg,#0079ff 0px,#0079ff 4px)"></i></div>
<svg class="L" width="1075" height="954" viewBox="0 0 1075 954">
<path d="M478.5 873.9 L478.5 873.9 L478.5 873.8 L478.4 873.8 L478.4 873.8 L478.4 873.8 L478.4 873.9 L478.3 873.9 L478.3 873.9 L478.3 873.9 L478.2 873.9 L478.2 873.9 L478.1 873.9 L478.1 873.9 L478.0 873.9 L478.0 873.9 L478.0 873.9 L477.9 873.9 L477.9 874.0 L477.8 874.0 L477.8 874.0 L477.8 874.0 L477.7 874.0 L477.7 874.0 L477.6 874.0 L477.5 874.0 L477.4 874.0 L477.4 874.0 L477.3 874.0 L477.2 874.0 L477.1 874.0 L477.0 874.0 L477.0 874.0 L476.9 874.0 L476.8 874.0 L476.7 874.0 L476.6 874.0 L476.5 873.9 L476.4 873.9 L476.2 873.8 L476.1 873.7 L475.9 873.6 L475.7 873.5 L475.5 873.4 L475.3 873.3 L475.1 873.1 L474.9 873.0 L474.6 872.8 L474.4 872.6 L474.1 872.4 L473.8 872.1 L473.5 871.9 L473.1 871.6 L472.8 871.3 L472.4 871.0 L472.0 870.6 L471.6 870.3 L471.2 869.9 L470.8 869.5 L470.3 869.0 L469.8 868.6 L469.3 868.1 L468.7 867.6 L468.1 867.1 L467.5 866.5 L466.8 866.0 L466.1 865.3 L465.4 864.7 L464.6 864.0 L463.7 863.2 L462.8 862.4 L461.9 861.6 L461.0 860.8 L459.9 859.9 L458.9 858.9 L457.8 857.9 L456.6 856.9 L455.4 855.7 L454.2 854.5 L452.8 853.1 L451.5 851.7 L450.1 850.2 L448.7 848.6 L447.2 846.8 L445.6 844.8 L443.9 842.6 L442.1 840.1 L440.2 837.2 L438.2 834.0 L436.0 830.5 L433.7 826.5 L431.4 822.3 L428.9 817.6 L426.3 812.4 L423.6 806.8 L420.7 800.5 L417.7 793.7 L414.6 786.2 L411.4 778.0 L407.9 769.1 L404.3 759.5 L400.6 749.1 L396.6 737.9 L392.5 725.7 L388.4 712.6 L384.1 698.6 L379.9 683.6 L375.7 667.7 L371.5 650.8 L367.4 633.0 L363.2 614.2 L359.1 594.5 L355.0 574.0 L351.0 552.8 L347.2 531.0 L343.6 508.8 L340.2 486.4 L337.2 463.8 L334.4 441.2 L332.0 418.6 L329.9 396.2 L328.2 374.2 L327.0 352.6 L326.2 331.7 L325.9 311.5 L326.1 292.0 L326.8 273.1 L328.0 255.0 L329.8 237.8 L332.1 221.6 L335.0 206.6 L338.5 192.8 L342.5 180.3 L347.0 169.1 L352.0 159.4 L357.4 151.3 L363.2 144.7 L369.3 139.5 L375.7 135.7 L382.3 133.1 L389.1 131.8 L396.1 131.5 L403.1 132.2 L410.3 133.7 L417.5 135.9 L424.8 138.6 L432.1 141.6 L439.5 145.1 L446.8 148.8 L454.0 152.7 L461.1 156.8 L468.1 160.9 L475.0 165.1 L481.8 169.5 L488.6 173.9 L495.3 178.5 L501.9 183.2 L508.6 187.9 L515.1 192.8 L521.7 197.8 L528.2 202.9 L534.7 208.1 L541.2 213.4 L547.7 218.8 L554.1 224.2 L560.6 229.8 L567.0 235.4 L573.4 241.1 L579.8 246.8 L586.2 252.6 L592.6 258.4 L599.0 264.3 L605.5 270.3 L611.9 276.3 L618.3 282.3 L624.7 288.4 L631.1 294.5 L637.5 300.6 L643.9 306.8 L650.3 313.0 L656.7 319.2 L663.1 325.4 L669.4 331.7 L675.8 337.9 L682.2 344.1 L688.6 350.4 L694.9 356.7 L701.3 362.9 L707.6 369.2 L713.9 375.4 L720.2 381.6 L726.5 387.9 L732.7 394.1 L738.9 400.2 L745.1 406.4 L751.3 412.5 L757.4 418.6 L763.5 424.7 L769.5 430.7 L775.5 436.7 L781.5 442.6 L787.4 448.5 L793.2 454.3 L799.0 460.1 L804.7 465.8 L810.4 471.4 L816.0 477.0 L821.5 482.5 L826.9 487.9 L832.3 493.2 L837.6 498.5 L842.8 503.6 L847.9 508.7 L852.8 513.7 L857.7 518.6 L862.4 523.3 L867.0 527.9 L871.4 532.3 L875.7 536.5 L879.9 540.7 L884.0 544.8 L888.0 548.8 L892.0 552.7 L895.8 556.5 L899.4 560.2 L903.0 563.7 L906.4 567.1 L909.7 570.3 L912.8 573.4 L915.8 576.4 L918.7 579.2 L921.5 582.0 L924.1 584.7 L926.7 587.2 L929.2 589.7 L931.5 592.0 L933.7 594.3 L935.9 596.4 L937.9 598.4 L939.9 600.4 L941.7 602.2 L943.5 604.0 L945.2 605.7 L946.8 607.3 L948.4 608.8 L949.9 610.3 L951.3 611.7 L952.7 613.1 L954.0 614.4 L955.2 615.6 L956.4 616.8 L957.6 618.0 L958.7 619.1 L959.8 620.2 L960.9 621.3 L961.9 622.3 L962.9 623.3 L963.8 624.2 L964.7 625.1 L965.6 625.9 L966.4 626.8 L967.2 627.5 L967.9 628.3 L968.6 629.0 L969.3 629.7 L970.0 630.3 L970.6 630.9 L971.1 631.5 L971.7 632.0 L972.1 632.5 L972.6 633.0 L973.1 633.4 L973.5 633.8 L973.9 634.3 L974.3 634.6 L974.7 635.0 L975.0 635.4 L975.3 635.7 L975.6 636.0 L975.9 636.3 L976.2 636.5 L976.4 636.8 L976.6 637.0 L976.8 637.2 L977.0 637.4 L977.2 637.5 L977.4 637.7 L977.5 637.9 L977.7 638.0 L977.8 638.2 L978.0 638.3 L978.1 638.5 L978.3 638.6 L978.4 638.7 L978.5 638.9 L978.6 639.0 L978.8 639.1 L978.9 639.2 L979.0 639.4 L979.1 639.5 L979.3 639.6 L979.4 639.7 L979.5 639.9 L979.6 640.0 L979.7 640.1 L979.8 640.2 L979.9 640.3 L980.0 640.3 L980.0 640.4 L980.1 640.4 L980.1 640.5 L980.2 640.5 L980.2 640.6 L980.3 640.6 L980.3 640.6 L980.3 640.7 L980.3 640.7 L980.4 640.7 L980.4 640.7 L980.4 640.8 L980.4 640.8Z" fill="none" stroke="#000" stroke-width="1.6" stroke-linejoin="round"/>
<path d="M469.8 868.6L463.1 876.0M466.8 866.0L460.2 873.5M462.8 862.4L456.3 870.0M457.8 857.9L451.0 865.3M451.5 851.7L444.2 858.5M443.9 842.6L435.8 848.5M433.7 826.5L425.0 831.5M420.7 800.5L411.6 804.6M404.3 759.5L395.0 762.9M384.1 698.6L374.5 701.4M363.2 614.2L353.5 616.3M343.6 508.8L333.7 510.3M656.7 319.2L663.6 312.0M688.6 350.4L695.6 343.3M720.2 381.6L727.2 374.5M751.3 412.5L758.3 405.5M781.5 442.6L788.5 435.5M810.4 471.4L817.4 464.3M837.6 498.5L844.6 491.4M862.4 523.3L869.5 516.2M884.0 544.8L891.1 537.7M903.0 563.7L910.0 556.6M918.7 579.2L925.7 572.1M931.5 592.0L938.6 584.9M941.7 602.2L948.8 595.1M949.9 610.3L956.9 603.2M956.4 616.8L963.5 609.7M961.9 622.3L969.0 615.2M966.4 626.8L973.5 619.7M970.0 630.3L977.0 623.2M972.6 633.0L979.7 625.9M974.7 635.0L981.7 627.9M976.2 636.5L983.2 629.5M977.2 637.5L984.3 630.5M978.0 638.3L985.1 631.3M978.6 639.0L985.7 631.9M979.3 639.6L986.3 632.5M979.8 640.2L986.9 633.1M980.1 640.5L987.2 633.4M980.3 640.7L987.4 633.6M980.4 640.8L987.5 633.7" stroke="#000" stroke-width="1.5" fill="none"/>
<text x="729.7" y="373.1" font-size="22.5" fill="#2323ff" textLength="38" lengthAdjust="spacingAndGlyphs">570</text>
<text x="790.0" y="433.6" font-size="22.5" fill="#2323ff" textLength="38" lengthAdjust="spacingAndGlyphs">580</text>
<text x="845.9" y="490.0" font-size="22.5" fill="#2323ff" textLength="38" lengthAdjust="spacingAndGlyphs">590</text>
<text x="892.8" y="536.0" font-size="22.5" fill="#2323ff" textLength="38" lengthAdjust="spacingAndGlyphs">600</text>
<text x="927.3" y="570.4" font-size="22.5" fill="#2323ff" textLength="38" lengthAdjust="spacingAndGlyphs">610</text>
<text x="951.5" y="591.0" font-size="22.5" fill="#2323ff" textLength="38" lengthAdjust="spacingAndGlyphs">620</text>
<text x="964.2" y="607.8" font-size="22.5" fill="#2323ff" textLength="38" lengthAdjust="spacingAndGlyphs">630</text>
<text x="975.9" y="618.0" font-size="22.5" fill="#2323ff" textLength="38" lengthAdjust="spacingAndGlyphs">640</text>
<text x="980.9" y="624.6" font-size="22.5" fill="#2323ff" textLength="38" lengthAdjust="spacingAndGlyphs">650</text>
<text x="352.4" y="779.3" font-size="22.5" fill="#2323ff" textLength="38" lengthAdjust="spacingAndGlyphs">480</text>
<text x="383.2" y="848.0" font-size="22.5" fill="#2323ff" textLength="38" lengthAdjust="spacingAndGlyphs">470</text>
<text x="401.2" y="876.0" font-size="22.5" fill="#2323ff" textLength="38" lengthAdjust="spacingAndGlyphs">460</text>
<text x="413.7" y="888.6" font-size="22.5" fill="#2323ff" textLength="38" lengthAdjust="spacingAndGlyphs">450</text>
<text x="420.5" y="895.4" font-size="22.5" fill="#2323ff" textLength="38" lengthAdjust="spacingAndGlyphs">440</text>
<circle cx="492.0" cy="678.7" r="7.2" fill="#000" stroke="#fff" stroke-width="1.8"/>
<rect x="504.3" y="615.9" width="15.2" height="15.2" fill="#000" stroke="#fff" stroke-width="1.8"/>
<path d="M527.9 494.2L535.4 503.2L527.9 512.2L520.4 503.2Z" fill="#000" stroke="#fff" stroke-width="1.8"/>
<path d="M539.0 473.0L546.0 485.6L532.0 485.6Z" fill="#000" stroke="#fff" stroke-width="1.8"/>
<path d="M545.2 442.5L552.7 429.0L537.7 429.0Z" fill="#000" stroke="#fff" stroke-width="1.8"/>
<ellipse cx="492.0" cy="678.0" rx="3.8" ry="9.3" transform="rotate(17 492.0 678.0)" fill="none" stroke="#ff1010" stroke-width="1.5"/>
<ellipse cx="511.6" cy="624.0" rx="3.8" ry="10.0" transform="rotate(17 511.6 624.0)" fill="none" stroke="#ff1010" stroke-width="1.5"/>
<ellipse cx="527.2" cy="504.0" rx="5.2" ry="11.5" transform="rotate(10 527.2 504.0)" fill="none" stroke="#ff1010" stroke-width="1.5"/>
<ellipse cx="537.8" cy="480.8" rx="5.2" ry="11.5" transform="rotate(6 537.8 480.8)" fill="none" stroke="#ff1010" stroke-width="1.5"/>
<ellipse cx="544.7" cy="432.5" rx="6.0" ry="11.7" transform="rotate(4 544.7 432.5)" fill="none" stroke="#ff1010" stroke-width="1.5"/>
<text x="491.6" y="708.3" font-size="22" text-anchor="middle" fill="#111">A</text>
<text x="512.5" y="652.8" font-size="22" text-anchor="middle" fill="#111">B</text>
<text x="528.2" y="533.0" font-size="22" text-anchor="middle" fill="#111">C</text>
<text x="539.0" y="510.0" font-size="22" text-anchor="middle" fill="#111">D</text>
<text x="545.2" y="461.8" font-size="22" text-anchor="middle" fill="#111">E</text>
<text x="573.5" y="863.5" font-size="22" fill="#111">3</text>
<text x="600.2" y="863.5" font-size="22" fill="#111" textLength="186.4" lengthAdjust="spacingAndGlyphs">MacAdam ellipses</text>
</svg>
<div class="lg">
<div style="top:13.2px;color:#0070c0">At excitation wavelength 363 nm</div>
<div style="top:55.5px">A- La<sub>2</sub>O<sub>3</sub>:Tm<sup>3+</sup>(1.5 mol%) /Ho<sup>3+</sup>(0.5 mol%)</div>
<div style="top:97.8px">B- La<sub>2</sub>O<sub>3</sub>:Tm<sup>3+</sup>(1.5 mol%) /Ho<sup>3+</sup>(1.0 mol%)</div>
<div style="top:140.2px">C- La<sub>2</sub>O<sub>3</sub>:Tm<sup>3+</sup>(1.5 mol%) /Ho<sup>3+</sup>(1.5 mol%)</div>
<div style="top:182.6px">D- La<sub>2</sub>O<sub>3</sub>:Tm<sup>3+</sup>(1.5 mol%) /Ho<sup>3+</sup>(2.0 mol%)</div>
<div style="top:224.9px">E- La<sub>2</sub>O<sub>3</sub>:Tm<sup>3+</sup>(1.5 mol%) /Ho<sup>3+</sup>(2.5 mol%)</div>
</div>
<div style="position:absolute;left:0;top:70.5px;width:408px;height:635px;background:#fff"></div>
<div class="f" style="clip-path:polygon(180.0px 825.7px,180.0px 825.7px,180.0px 825.7px,180.0px 825.7px,179.9px 825.7px,179.9px 825.7px,179.9px 825.7px,179.8px 825.8px,179.7px 825.8px,179.7px 825.8px,179.6px 825.8px,179.6px 825.8px,179.5px 825.8px,179.4px 825.8px,179.4px 825.8px,179.3px 825.8px,179.2px 825.8px,179.2px 825.9px,179.1px 825.9px,179.1px 825.9px,179.0px 826.0px,179.0px 826.0px,178.9px 826.0px,178.8px 826.0px,178.7px 826.0px,178.6px 826.0px,178.5px 826.0px,178.4px 826.0px,178.2px 826.0px,178.1px 825.9px,178.0px 826.0px,177.9px 826.0px,177.8px 826.0px,177.6px 825.9px,177.5px 825.9px,177.3px 825.9px,177.2px 825.9px,177.1px 825.8px,176.9px 825.8px,176.7px 825.7px,176.4px 825.5px,176.2px 825.4px,175.9px 825.2px,175.6px 825.1px,175.3px 824.9px,175.0px 824.6px,174.6px 824.4px,174.3px 824.1px,173.9px 823.8px,173.5px 823.5px,173.1px 823.2px,172.6px 822.8px,172.1px 822.4px,171.6px 821.9px,171.0px 821.5px,170.4px 820.9px,169.8px 820.4px,169.2px 819.8px,168.6px 819.2px,167.9px 818.6px,167.1px 817.9px,166.4px 817.2px,165.5px 816.4px,164.7px 815.7px,163.7px 814.8px,162.7px 814.0px,161.7px 813.0px,160.5px 812.0px,159.4px 811.0px,158.1px 809.9px,156.8px 808.7px,155.4px 807.5px,154.0px 806.3px,152.5px 805.0px,150.9px 803.5px,149.3px 802.0px,147.5px 800.4px,145.7px 798.7px,143.9px 796.8px,141.9px 794.9px,139.9px 792.8px,137.8px 790.5px,135.7px 788.1px,133.5px 785.4px,131.1px 782.5px,128.7px 779.2px,126.0px 775.4px,123.2px 771.2px,120.1px 766.4px,116.9px 761.1px,113.5px 755.3px,110.0px 748.9px,106.3px 741.9px,102.4px 734.3px,98.4px 725.8px,94.2px 716.6px,89.7px 706.4px,85.1px 695.2px,80.2px 683.0px,75.1px 669.8px,69.8px 655.5px,64.2px 640.0px,58.3px 623.2px,52.3px 605.2px,46.0px 585.7px,39.7px 564.8px,33.5px 542.5px,27.2px 518.8px,21.1px 493.6px,14.9px 467.1px,8.7px 439.1px,2.5px 409.8px,-3.5px 379.3px,-9.4px 347.7px,-15.1px 315.3px,-20.5px 282.2px,-25.5px 248.8px,-30.0px 215.2px,-34.2px 181.6px,-37.8px 148.0px,-40.8px 114.6px,-43.3px 81.8px,-45.2px 49.7px,-46.4px 18.6px,-46.9px -11.5px,-46.6px -40.5px,-45.5px -68.6px,-43.7px -95.6px,-41.1px -121.2px,-37.6px -145.3px,-33.2px -167.6px,-28.1px -188.2px,-22.1px -206.9px,-15.4px -223.5px,-8.0px -237.9px,0.0px -250.1px,8.6px -259.9px,17.7px -267.6px,27.3px -273.3px,37.1px -277.1px,47.2px -279.1px,57.5px -279.5px,68.0px -278.4px,78.7px -276.2px,89.4px -272.9px,100.2px -269.0px,111.1px -264.4px,122.1px -259.3px,132.9px -253.7px,143.7px -247.9px,154.2px -241.9px,164.6px -235.7px,174.9px -229.4px,185.0px -223.0px,195.1px -216.4px,205.0px -209.6px,214.9px -202.6px,224.7px -195.5px,234.5px -188.2px,244.2px -180.8px,253.9px -173.2px,263.6px -165.4px,273.2px -157.6px,282.9px -149.5px,292.5px -141.4px,302.0px -133.2px,311.6px -124.8px,321.2px -116.4px,330.7px -107.8px,340.2px -99.2px,349.7px -90.5px,359.3px -81.7px,368.8px -72.8px,378.3px -63.9px,387.8px -54.9px,397.3px -45.9px,406.8px -36.8px,416.4px -27.7px,425.9px -18.5px,435.4px -9.3px,444.9px -0.0px,454.4px 9.2px,463.9px 18.5px,473.4px 27.8px,482.9px 37.1px,492.3px 46.4px,501.8px 55.7px,511.2px 65.0px,520.6px 74.3px,530.0px 83.6px,539.3px 92.9px,548.7px 102.2px,558.0px 111.4px,567.2px 120.6px,576.4px 129.8px,585.5px 138.9px,594.6px 148.0px,603.7px 157.0px,612.7px 166.0px,621.6px 174.9px,630.4px 183.7px,639.2px 192.5px,647.9px 201.1px,656.5px 209.7px,665.0px 218.2px,673.4px 226.6px,681.7px 234.9px,689.9px 243.0px,698.0px 251.1px,706.0px 259.0px,713.8px 266.8px,721.5px 274.6px,729.1px 282.1px,736.6px 289.6px,743.8px 296.8px,750.8px 303.8px,757.6px 310.6px,764.2px 317.2px,770.6px 323.5px,776.8px 329.7px,782.9px 335.8px,788.9px 341.8px,794.7px 347.6px,800.3px 353.2px,805.8px 358.7px,811.1px 363.9px,816.1px 369.0px,821.0px 373.8px,825.7px 378.4px,830.1px 382.8px,834.4px 387.1px,838.6px 391.2px,842.5px 395.2px,846.4px 399.0px,850.0px 402.6px,853.5px 406.1px,856.8px 409.5px,860.0px 412.6px,863.0px 415.7px,865.9px 418.6px,868.7px 421.3px,871.3px 424.0px,873.9px 426.5px,876.3px 428.9px,878.6px 431.2px,880.8px 433.4px,882.9px 435.5px,884.9px 437.5px,886.9px 439.4px,888.7px 441.3px,890.5px 443.1px,892.3px 444.8px,894.0px 446.5px,895.6px 448.1px,897.2px 449.7px,898.7px 451.2px,900.1px 452.7px,901.5px 454.0px,902.8px 455.4px,904.1px 456.6px,905.3px 457.9px,906.5px 459.0px,907.6px 460.2px,908.7px 461.2px,909.7px 462.2px,910.7px 463.2px,911.5px 464.1px,912.4px 464.9px,913.2px 465.7px,913.9px 466.4px,914.6px 467.1px,915.3px 467.8px,915.9px 468.4px,916.5px 469.0px,917.1px 469.6px,917.6px 470.1px,918.1px 470.6px,918.6px 471.1px,919.1px 471.6px,919.5px 472.0px,919.9px 472.4px,920.2px 472.8px,920.6px 473.1px,920.9px 473.4px,921.1px 473.6px,921.4px 473.9px,921.6px 474.1px,921.9px 474.4px,922.1px 474.6px,922.4px 474.9px,922.6px 475.1px,922.8px 475.3px,923.0px 475.5px,923.2px 475.7px,923.4px 475.9px,923.5px 476.1px,923.7px 476.3px,923.9px 476.4px,924.1px 476.6px,924.3px 476.8px,924.5px 477.0px,924.7px 477.2px,924.8px 477.3px,925.0px 477.5px,925.2px 477.7px,925.3px 477.8px,925.4px 478.0px,925.5px 478.1px,925.6px 478.2px,925.7px 478.2px,925.8px 478.3px,925.8px 478.4px,925.9px 478.4px,926.0px 478.5px,926.0px 478.5px,926.0px 478.6px,926.1px 478.6px,926.1px 478.6px,926.2px 478.7px,926.2px 478.7px,926.2px 478.7px)"><div style="position:absolute;left:58.6px;top:75px;width:345px;height:570.4px;overflow:hidden"><div style="position:absolute;left:-58.6px;top:-75px;width:1075px;height:954px"><i style="left:56px;top:75px;width:351px;height:2px;background:linear-gradient(90deg,#00ff5b 0px,#03ff46 37px,#4cff49 128px,#71ff5d 173px,#89ff60 228px,#a8ff41 334px,#adff3a 350px)"></i>
<i style="left:56px;top:77px;width:351px;height:2px;background:linear-gradient(90deg,#00ff5c 0px,#03ff48 36px,#4eff4b 129px,#72ff5e 173px,#8aff62 228px,#a8ff43 333px,#aeff3c 350px)"></i>
<i style="left:56px;top:79px;width:351px;height:2px;background:linear-gradient(90deg,#00ff5d 0px,#03ff4a 35px,#4fff4c 130px,#74ff60 174px,#8cff63 229px,#aaff45 334px,#afff3e 350px)"></i>
<i style="left:56px;top:81px;width:351px;height:2px;background:linear-gradient(90deg,#00ff5e 0px,#03ff4c 34px,#52ff4e 132px,#76ff62 177px,#8dff65 232px,#abff46 337px,#afff40 350px)"></i>
<i style="left:56px;top:83px;width:351px;height:2px;background:linear-gradient(90deg,#00ff5f 0px,#03ff4d 34px,#53ff50 133px,#78ff64 178px,#8fff66 233px,#adff47 338px,#b0ff42 350px)"></i>
<i style="left:56px;top:85px;width:351px;height:2px;background:linear-gradient(90deg,#00ff60 0px,#03ff4f 33px,#54ff51 134px,#78ff65 178px,#90ff68 233px,#aeff49 338px,#b1ff44 350px)"></i>
<i style="left:56px;top:87px;width:351px;height:2px;background:linear-gradient(90deg,#00ff61 0px,#03ff51 32px,#4fff50 129px,#72ff63 168px,#8dff6b 221px,#a8ff54 316px,#b2ff46 350px)"></i>
<i style="left:56px;top:89px;width:351px;height:2px;background:linear-gradient(90deg,#00ff62 0px,#03ff53 32px,#51ff52 130px,#75ff65 170px,#8fff6c 223px,#aaff54 320px,#b3ff48 350px)"></i>
<i style="left:56px;top:91px;width:351px;height:2px;background:linear-gradient(90deg,#00ff63 0px,#03ff55 31px,#52ff54 131px,#77ff67 172px,#90ff6e 225px,#acff55 324px,#b4ff4a 350px)"></i>
<i style="left:56px;top:93px;width:351px;height:2px;background:linear-gradient(90deg,#00ff64 0px,#03ff56 30px,#53ff55 131px,#7bff69 177px,#93ff6f 231px,#b0ff53 333px,#b5ff4c 350px)"></i>
<i style="left:56px;top:95px;width:351px;height:2px;background:linear-gradient(90deg,#00ff65 0px,#03ff58 30px,#55ff57 132px,#7cff6b 178px,#94ff70 232px,#b1ff55 334px,#b6ff4e 350px)"></i>
<i style="left:56px;top:97px;width:351px;height:2px;background:linear-gradient(90deg,#00ff66 0px,#03ff5a 29px,#56ff59 133px,#7eff6d 180px,#96ff71 234px,#b3ff55 337px,#b7ff4f 350px)"></i>
<i style="left:56px;top:99px;width:351px;height:2px;background:linear-gradient(90deg,#00ff66 0px,#03ff5c 28px,#57ff5b 133px,#80ff6f 183px,#98ff73 237px,#b5ff56 340px,#b8ff51 350px)"></i>
<i style="left:56px;top:101px;width:351px;height:2px;background:linear-gradient(90deg,#00ff67 0px,#03ff5d 27px,#58ff5c 134px,#82ff71 185px,#99ff74 240px,#b6ff57 342px,#b8ff53 350px)"></i>
<i style="left:56px;top:103px;width:351px;height:2px;background:linear-gradient(90deg,#00ff68 0px,#03ff5f 27px,#5aff5e 135px,#84ff72 186px,#9aff75 240px,#b7ff59 342px,#b9ff55 350px)"></i>
<i style="left:56px;top:105px;width:351px;height:2px;background:linear-gradient(90deg,#00ff69 0px,#03ff60 26px,#5bff60 135px,#73ff69 161px,#92ff78 214px,#a8ff6d 288px,#baff57 350px)"></i>
<i style="left:56px;top:107px;width:351px;height:2px;background:linear-gradient(90deg,#00ff6a 0px,#04ff61 26px,#5cff61 136px,#72ff6a 160px,#93ff7a 213px,#a8ff6f 285px,#bbff59 350px)"></i>
<i style="left:56px;top:109px;width:351px;height:2px;background:linear-gradient(90deg,#00ff6b 0px,#03ff63 25px,#5dff63 137px,#74ff6c 162px,#95ff7b 215px,#aaff70 288px,#bcff5b 350px)"></i>
<i style="left:56px;top:111px;width:351px;height:2px;background:linear-gradient(90deg,#00ff6c 0px,#03ff64 24px,#5fff64 138px,#74ff6c 161px,#95ff7c 214px,#aaff73 285px,#bdff5d 350px)"></i>
<i style="left:56px;top:113px;width:351px;height:2px;background:linear-gradient(90deg,#00ff6d 0px,#04ff65 24px,#60ff66 139px,#74ff6d 161px,#96ff7e 214px,#abff75 284px,#beff5f 350px)"></i>
<i style="left:56px;top:115px;width:351px;height:2px;background:linear-gradient(90deg,#00ff6e 0px,#03ff66 23px,#62ff68 140px,#77ff6f 163px,#97ff7f 216px,#adff75 288px,#beff61 350px)"></i>
<i style="left:56px;top:117px;width:351px;height:2px;background:linear-gradient(90deg,#00ff6f 0px,#03ff68 22px,#63ff69 141px,#77ff70 163px,#98ff81 216px,#adff77 287px,#bfff62 350px)"></i>
<i style="left:56px;top:119px;width:351px;height:2px;background:linear-gradient(90deg,#00ff70 0px,#04ff69 22px,#65ff6b 142px,#77ff71 163px,#99ff82 216px,#aeff79 286px,#c0ff64 350px)"></i>
<i style="left:56px;top:121px;width:351px;height:2px;background:linear-gradient(90deg,#00ff71 0px,#03ff6a 21px,#65ff6d 142px,#79ff73 164px,#9aff84 217px,#afff7b 287px,#c1ff66 350px)"></i>
<i style="left:56px;top:123px;width:351px;height:2px;background:linear-gradient(90deg,#00ff72 0px,#04ff6c 21px,#67ff6e 144px,#7bff75 166px,#9cff85 218px,#b1ff7c 289px,#c2ff68 350px)"></i>
<i style="left:56px;top:125px;width:351px;height:2px;background:linear-gradient(90deg,#00ff73 0px,#04ff6d 20px,#69ff70 145px,#7bff75 166px,#9cff86 218px,#b1ff7e 288px,#c3ff6a 350px)"></i>
<i style="left:56px;top:127px;width:351px;height:2px;background:linear-gradient(90deg,#00ff75 0px,#03ff6e 19px,#6aff71 145px,#7dff77 167px,#9eff88 219px,#b2ff7f 289px,#c3ff6c 350px)"></i>
<i style="left:56px;top:129px;width:351px;height:2px;background:linear-gradient(90deg,#00ff76 0px,#04ff70 19px,#6cff73 147px,#7fff79 169px,#9fff89 221px,#b4ff80 293px,#c4ff6d 350px)"></i>
<i style="left:56px;top:131px;width:351px;height:2px;background:linear-gradient(90deg,#00ff77 0px,#04ff71 18px,#6dff74 148px,#80ff7a 170px,#a0ff8b 222px,#b5ff81 294px,#c5ff6f 350px)"></i>
<i style="left:56px;top:133px;width:351px;height:2px;background:linear-gradient(90deg,#00ff78 0px,#03ff72 17px,#6eff76 148px,#81ff7c 171px,#a2ff8c 223px,#b7ff82 296px,#c6ff71 350px)"></i>
<i style="left:56px;top:135px;width:351px;height:2px;background:linear-gradient(90deg,#00ff79 0px,#04ff74 17px,#70ff78 150px,#83ff7e 173px,#a3ff8e 225px,#b9ff83 300px,#c7ff73 350px)"></i>
<i style="left:56px;top:137px;width:351px;height:2px;background:linear-gradient(90deg,#00ff7a 0px,#04ff75 16px,#71ff79 151px,#84ff7e 173px,#a4ff8f 225px,#b9ff85 299px,#c7ff74 350px)"></i>
<i style="left:56px;top:139px;width:351px;height:2px;background:linear-gradient(90deg,#00ff7b 0px,#04ff77 16px,#73ff7b 152px,#86ff80 175px,#a5ff90 226px,#baff86 300px,#c8ff76 350px)"></i>
<i style="left:56px;top:141px;width:351px;height:2px;background:linear-gradient(90deg,#00ff7c 0px,#05ff78 16px,#74ff7c 153px,#87ff82 176px,#a6ff92 227px,#bcff88 302px,#c9ff78 350px)"></i>
<i style="left:56px;top:143px;width:351px;height:2px;background:linear-gradient(90deg,#00ff7d 0px,#04ff79 15px,#75ff7e 154px,#88ff83 177px,#a8ff93 228px,#bdff89 303px,#caff7a 350px)"></i>
<i style="left:56px;top:145px;width:351px;height:2px;background:linear-gradient(90deg,#00ff7e 0px,#05ff7b 15px,#77ff7f 155px,#89ff84 178px,#a9ff94 229px,#beff8a 305px,#cbff7b 350px)"></i>
<i style="left:56px;top:147px;width:351px;height:2px;background:linear-gradient(90deg,#00ff7f 0px,#06ff7c 15px,#78ff81 156px,#8cff86 180px,#aaff96 231px,#c0ff8b 309px,#cbff7d 350px)"></i>
<i style="left:56px;top:149px;width:351px;height:2px;background:linear-gradient(90deg,#00ff80 0px,#05ff7d 14px,#79ff82 157px,#8dff88 181px,#abff97 232px,#c2ff8c 311px,#ccff7f 350px)"></i>
<i style="left:56px;top:151px;width:351px;height:2px;background:linear-gradient(90deg,#00ff82 0px,#06ff7f 14px,#7bff84 159px,#8fff8a 183px,#adff99 234px,#c3ff8c 315px,#cdff81 350px)"></i>
<i style="left:56px;top:153px;width:351px;height:2px;background:linear-gradient(90deg,#00ff83 0px,#06ff80 14px,#7dff85 160px,#90ff8b 184px,#aeff9a 235px,#c5ff8d 317px,#ceff82 350px)"></i>
<i style="left:56px;top:155px;width:351px;height:2px;background:linear-gradient(90deg,#00ff84 0px,#07ff82 14px,#7eff87 161px,#91ff8c 185px,#afff9b 235px,#c5ff90 315px,#ceff84 350px)"></i>
<i style="left:56px;top:157px;width:351px;height:2px;background:linear-gradient(90deg,#00ff85 0px,#0aff83 17px,#80ff88 163px,#93ff8e 187px,#b0ff9d 237px,#c7ff90 320px,#cfff86 350px)"></i>
<i style="left:56px;top:159px;width:351px;height:2px;background:linear-gradient(90deg,#00ff86 0px,#0cff85 19px,#82ff8a 165px,#95ff90 189px,#b2ff9e 239px,#c9ff90 324px,#d0ff87 350px)"></i>
<i style="left:56px;top:161px;width:351px;height:2px;background:linear-gradient(90deg,#00ff87 0px,#17ff86 31px,#85ff8c 168px,#97ff92 191px,#b3ff9f 241px,#cbff91 327px,#d1ff89 350px)"></i>
<i style="left:56px;top:163px;width:351px;height:2px;background:linear-gradient(90deg,#00ff88 0px,#88ff8d 172px,#aeff9f 226px,#c1ff9c 287px,#d1ff8b 350px)"></i>
<i style="left:56px;top:165px;width:351px;height:2px;background:linear-gradient(90deg,#00ff8a 0px,#88ff8f 172px,#9dff97 198px,#b7ffa2 247px,#cfff91 337px,#d2ff8c 350px)"></i>
<i style="left:56px;top:167px;width:351px;height:2px;background:linear-gradient(90deg,#00ff8b 0px,#89ff90 172px,#9cff97 196px,#b7ffa3 245px,#ceff94 333px,#d3ff8e 350px)"></i>
<i style="left:56px;top:169px;width:351px;height:2px;background:linear-gradient(90deg,#00ff8c 0px,#89ff91 171px,#9cff97 195px,#b8ffa5 244px,#ceff97 330px,#d4ff90 350px)"></i>
<i style="left:56px;top:171px;width:351px;height:2px;background:linear-gradient(90deg,#00ff8d 0px,#8aff93 171px,#9eff99 197px,#b9ffa6 246px,#d0ff97 333px,#d4ff91 350px)"></i>
<i style="left:56px;top:173px;width:351px;height:2px;background:linear-gradient(90deg,#00ff8e 0px,#8aff94 170px,#9eff9a 197px,#baffa7 246px,#d0ff99 332px,#d5ff93 350px)"></i>
<i style="left:56px;top:175px;width:351px;height:2px;background:linear-gradient(90deg,#00ff90 0px,#8aff95 170px,#9fff9b 198px,#bbffa9 247px,#d1ff9a 333px,#d6ff94 350px)"></i>
<i style="left:56px;top:177px;width:351px;height:2px;background:linear-gradient(90deg,#01ff91 0px,#8cff97 172px,#a1ff9d 200px,#bcffaa 249px,#d3ff9b 336px,#d7ff96 350px)"></i>
<i style="left:56px;top:179px;width:351px;height:2px;background:linear-gradient(90deg,#01ff92 0px,#8dff98 173px,#a3ff9e 201px,#bdffab 250px,#d4ff9c 337px,#d7ff98 350px)"></i>
<i style="left:56px;top:181px;width:351px;height:2px;background:linear-gradient(90deg,#02ff94 0px,#8fff9a 174px,#a4ff9f 202px,#beffac 251px,#d5ff9d 338px,#d8ff99 350px)"></i>
<i style="left:56px;top:183px;width:351px;height:2px;background:linear-gradient(90deg,#02ff95 0px,#90ff9b 175px,#a6ffa1 204px,#bfffae 252px,#d6ff9f 339px,#d9ff9b 350px)"></i>
<i style="left:56px;top:185px;width:351px;height:2px;background:linear-gradient(90deg,#03ff97 0px,#91ff9d 176px,#a7ffa2 205px,#c0ffaf 253px,#d7ffa0 339px,#d9ff9c 350px)"></i>
<i style="left:56px;top:187px;width:351px;height:2px;background:linear-gradient(90deg,#03ff98 0px,#92ff9e 177px,#a8ffa4 206px,#c2ffb0 254px,#d8ffa1 340px,#daff9e 350px)"></i>
<i style="left:56px;top:189px;width:351px;height:2px;background:linear-gradient(90deg,#04ff9a 0px,#94ff9f 178px,#aaffa5 208px,#c3ffb1 256px,#d9ffa2 342px,#dbff9f 350px)"></i>
<i style="left:56px;top:191px;width:351px;height:2px;background:linear-gradient(90deg,#04ff9b 0px,#95ffa1 179px,#abffa7 209px,#c4ffb3 257px,#daffa3 343px,#dbffa1 350px)"></i>
<i style="left:56px;top:193px;width:351px;height:2px;background:linear-gradient(90deg,#05ff9c 0px,#95ffa2 179px,#acffa8 210px,#c5ffb4 258px,#dbffa5 344px,#dcffa2 350px)"></i>
<i style="left:56px;top:195px;width:351px;height:2px;background:linear-gradient(90deg,#05ff9e 0px,#97ffa3 180px,#adffa9 211px,#c6ffb5 259px,#dbffa6 344px,#ddffa4 350px)"></i>
<i style="left:56px;top:197px;width:351px;height:2px;background:linear-gradient(90deg,#06ff9f 0px,#98ffa5 181px,#afffab 213px,#c7ffb6 261px,#dcffa7 346px,#ddffa5 350px)"></i>
<i style="left:56px;top:199px;width:351px;height:2px;background:linear-gradient(90deg,#06ffa1 0px,#99ffa6 182px,#b0ffac 214px,#c8ffb7 261px,#ddffa9 345px,#deffa7 350px)"></i>
<i style="left:56px;top:201px;width:351px;height:2px;background:linear-gradient(90deg,#07ffa2 0px,#99ffa7 182px,#b1ffad 215px,#c9ffb9 262px,#deffaa 346px,#dfffa8 350px)"></i>
<i style="left:56px;top:203px;width:351px;height:2px;background:linear-gradient(90deg,#07ffa4 0px,#9bffa9 183px,#b3ffaf 217px,#caffba 264px,#dfffab 347px,#dfffaa 350px)"></i>
<i style="left:56px;top:205px;width:351px;height:2px;background:linear-gradient(90deg,#08ffa5 0px,#9bffaa 183px,#b4ffb0 218px,#cbffbb 265px,#e0ffac 348px,#e0ffab 350px)"></i>
<i style="left:56px;top:207px;width:351px;height:2px;background:linear-gradient(90deg,#08ffa6 0px,#9cffab 183px,#b5ffb1 219px,#ccffbc 266px,#e0ffad 348px,#e1ffad 350px)"></i>
<i style="left:56px;top:209px;width:351px;height:2px;background:linear-gradient(90deg,#09ffa8 0px,#9cffad 183px,#b6ffb2 220px,#cdffbd 267px,#e1ffaf 349px,#e1ffae 350px)"></i>
<i style="left:56px;top:211px;width:351px;height:2px;background:linear-gradient(90deg,#09ffa9 0px,#9cffae 183px,#b7ffb4 221px,#ceffbe 268px,#e2ffb0 349px,#e2ffb0 350px)"></i>
<i style="left:56px;top:213px;width:351px;height:2px;background:linear-gradient(90deg,#09ffab 0px,#9dffaf 183px,#b9ffb5 223px,#cfffc0 270px,#e3ffb1 350px)"></i>
<i style="left:56px;top:215px;width:351px;height:2px;background:linear-gradient(90deg,#0affac 0px,#9dffb0 182px,#baffb6 224px,#d0ffc1 270px,#e3ffb2 350px)"></i>
<i style="left:56px;top:217px;width:351px;height:2px;background:linear-gradient(90deg,#0affad 0px,#9cffb1 181px,#bbffb8 225px,#d1ffc2 271px,#e4ffb4 350px)"></i>
<i style="left:56px;top:219px;width:351px;height:2px;background:linear-gradient(90deg,#0bffaf 0px,#9dffb3 181px,#bcffb9 226px,#d2ffc3 272px,#e4ffb5 350px)"></i>
<i style="left:56px;top:221px;width:351px;height:2px;background:linear-gradient(90deg,#0bffb0 0px,#9cffb4 180px,#beffba 228px,#d3ffc4 274px,#e5ffb7 350px)"></i>
<i style="left:56px;top:223px;width:351px;height:2px;background:linear-gradient(90deg,#0bffb2 0px,#9bffb5 178px,#bfffbb 229px,#d4ffc5 275px,#e6ffb8 350px)"></i>
<i style="left:56px;top:225px;width:351px;height:2px;background:linear-gradient(90deg,#0cffb3 0px,#9bffb6 177px,#c0ffbd 230px,#d5ffc6 276px,#e6ffb9 350px)"></i>
<i style="left:56px;top:227px;width:351px;height:2px;background:linear-gradient(90deg,#0cffb5 0px,#8fffb8 161px,#c1ffbe 231px,#d6ffc7 277px,#e7ffbb 350px)"></i>
<i style="left:56px;top:229px;width:351px;height:2px;background:linear-gradient(90deg,#0dffb6 0px,#91ffb9 163px,#c2ffbf 232px,#d7ffc9 278px,#e7ffbc 350px)"></i>
<i style="left:56px;top:231px;width:351px;height:2px;background:linear-gradient(90deg,#0dffb7 0px,#92ffba 164px,#c3ffc0 233px,#d8ffca 278px,#e8ffbd 350px)"></i>
<i style="left:56px;top:233px;width:351px;height:2px;background:linear-gradient(90deg,#0dffb9 0px,#93ffbb 165px,#c5ffc2 235px,#d9ffcb 280px,#e8ffbf 350px)"></i>
<i style="left:56px;top:235px;width:351px;height:2px;background:linear-gradient(90deg,#0effba 0px,#95ffbc 166px,#c6ffc3 236px,#daffcc 281px,#e9ffc0 350px)"></i>
<i style="left:56px;top:237px;width:351px;height:2px;background:linear-gradient(90deg,#0effbc 0px,#96ffbd 167px,#c7ffc4 238px,#dbffcd 283px,#eaffc1 350px)"></i>
<i style="left:56px;top:239px;width:351px;height:2px;background:linear-gradient(90deg,#0effbd 0px,#95ffbe 166px,#c8ffc5 239px,#dcffce 284px,#eaffc3 350px)"></i>
<i style="left:56px;top:241px;width:351px;height:2px;background:linear-gradient(90deg,#0fffbe 0px,#94ffbf 164px,#c9ffc6 240px,#dcffcf 285px,#ebffc4 350px)"></i>
<i style="left:56px;top:243px;width:351px;height:2px;background:linear-gradient(90deg,#0fffc0 0px,#94ffc0 163px,#cbffc8 242px,#deffd0 287px,#ebffc5 350px)"></i>
<i style="left:56px;top:245px;width:351px;height:2px;background:linear-gradient(90deg,#0fffc1 0px,#93ffc1 162px,#ccffc9 243px,#deffd1 288px,#ecffc6 350px)"></i>
<i style="left:56px;top:247px;width:351px;height:2px;background:linear-gradient(90deg,#10ffc3 0px,#93ffc2 161px,#cdffca 245px,#dfffd2 290px,#ecffc8 350px)"></i>
<i style="left:56px;top:249px;width:351px;height:2px;background:linear-gradient(90deg,#10ffc4 0px,#92ffc3 160px,#ceffcb 246px,#e0ffd3 291px,#edffc9 350px)"></i>
<i style="left:56px;top:251px;width:351px;height:2px;background:linear-gradient(90deg,#10ffc5 0px,#92ffc4 159px,#cfffcc 247px,#e1ffd4 292px,#edffca 350px)"></i>
<i style="left:56px;top:253px;width:351px;height:2px;background:linear-gradient(90deg,#10ffc7 0px,#92ffc5 159px,#d1ffce 249px,#e2ffd5 294px,#eeffcb 350px)"></i>
<i style="left:56px;top:255px;width:351px;height:2px;background:linear-gradient(90deg,#11ffc8 0px,#92ffc6 158px,#d2ffcf 250px,#e3ffd6 295px,#eeffcc 350px)"></i>
<i style="left:56px;top:257px;width:351px;height:2px;background:linear-gradient(90deg,#11ffca 0px,#92ffc7 158px,#d3ffd0 252px,#e4ffd7 297px,#efffce 350px)"></i>
<i style="left:56px;top:259px;width:351px;height:2px;background:linear-gradient(90deg,#11ffcb 0px,#92ffc8 157px,#d4ffd1 253px,#e5ffd8 298px,#efffcf 350px)"></i>
<i style="left:56px;top:261px;width:351px;height:2px;background:linear-gradient(90deg,#11ffcd 0px,#92ffc9 157px,#d5ffd2 254px,#e6ffd9 299px,#f0ffd0 350px)"></i>
<i style="left:56px;top:263px;width:351px;height:2px;background:linear-gradient(90deg,#12ffce 0px,#93ffca 157px,#d7ffd4 256px,#e7ffda 302px,#f0ffd1 350px)"></i>
<i style="left:56px;top:265px;width:351px;height:2px;background:linear-gradient(90deg,#12ffcf 0px,#93ffcb 157px,#d7ffd5 257px,#e8ffda 303px,#f1ffd2 350px)"></i>
<i style="left:56px;top:267px;width:351px;height:2px;background:linear-gradient(90deg,#12ffd1 0px,#93ffcc 157px,#d8ffd6 258px,#e8ffdb 304px,#f1ffd3 350px)"></i>
<i style="left:56px;top:269px;width:351px;height:2px;background:linear-gradient(90deg,#12ffd2 0px,#93ffcd 156px,#daffd7 260px,#e9ffdc 306px,#f2ffd4 350px)"></i>
<i style="left:56px;top:271px;width:351px;height:2px;background:linear-gradient(90deg,#13ffd4 0px,#94ffcf 157px,#dbffd8 261px,#eaffdd 307px,#f2ffd6 350px)"></i>
<i style="left:56px;top:273px;width:351px;height:2px;background:linear-gradient(90deg,#13ffd5 0px,#94ffd0 157px,#dcffd9 263px,#ebffde 310px,#f3ffd7 350px)"></i>
<i style="left:56px;top:275px;width:351px;height:2px;background:linear-gradient(90deg,#13ffd6 0px,#94ffd1 157px,#ddffda 264px,#ecffdf 311px,#f3ffd8 350px)"></i>
<i style="left:56px;top:277px;width:351px;height:2px;background:linear-gradient(90deg,#13ffd8 0px,#95ffd2 157px,#deffdb 265px,#edffe0 312px,#f4ffd9 350px)"></i>
<i style="left:56px;top:279px;width:351px;height:2px;background:linear-gradient(90deg,#13ffd9 0px,#95ffd3 157px,#dfffdd 267px,#eeffe0 316px,#f4ffda 350px)"></i>
<i style="left:56px;top:281px;width:351px;height:2px;background:linear-gradient(90deg,#14ffdb 0px,#95ffd4 157px,#e0ffde 268px,#efffe1 317px,#f5ffdb 350px)"></i>
<i style="left:56px;top:283px;width:351px;height:2px;background:linear-gradient(90deg,#14ffdc 0px,#96ffd5 157px,#e1ffde 269px,#efffe2 318px,#f5ffdc 350px)"></i>
<i style="left:56px;top:285px;width:351px;height:2px;background:linear-gradient(90deg,#14ffde 0px,#97ffd6 158px,#e2ffdf 270px,#f0ffe3 319px,#f5ffdd 350px)"></i>
<i style="left:56px;top:287px;width:351px;height:2px;background:linear-gradient(90deg,#14ffdf 0px,#97ffd7 158px,#e3ffe1 272px,#f1ffe4 323px,#f6ffde 350px)"></i>
<i style="left:56px;top:289px;width:351px;height:2px;background:linear-gradient(90deg,#14ffe0 0px,#97ffd9 158px,#e4ffe2 273px,#f2ffe4 324px,#f6ffdf 350px)"></i>
<i style="left:56px;top:291px;width:351px;height:2px;background:linear-gradient(90deg,#14ffe2 0px,#97ffda 158px,#e5ffe2 274px,#f2ffe5 325px,#f7ffe0 350px)"></i>
<i style="left:56px;top:293px;width:351px;height:2px;background:linear-gradient(90deg,#14ffe3 0px,#98ffdb 158px,#e5ffe3 275px,#f3ffe6 326px,#f7ffe1 350px)"></i>
<i style="left:56px;top:295px;width:351px;height:2px;background:linear-gradient(90deg,#15ffe5 0px,#99ffdc 159px,#e7ffe4 277px,#f4ffe7 329px,#f7ffe2 350px)"></i>
<i style="left:56px;top:297px;width:351px;height:2px;background:linear-gradient(90deg,#15ffe6 0px,#99ffdd 159px,#e7ffe5 278px,#f5ffe7 330px,#f8ffe3 350px)"></i>
<i style="left:56px;top:299px;width:351px;height:2px;background:linear-gradient(90deg,#15ffe8 0px,#99ffde 159px,#e8ffe6 278px,#f5ffe8 329px,#f8ffe4 350px)"></i>
<i style="left:56px;top:301px;width:351px;height:2px;background:linear-gradient(90deg,#15ffe9 0px,#99ffdf 159px,#e8ffe7 279px,#f5ffe9 330px,#f9ffe5 350px)"></i>
<i style="left:56px;top:303px;width:351px;height:2px;background:linear-gradient(90deg,#15ffeb 0px,#9affe0 160px,#e9ffe7 280px,#f6ffea 331px,#f9ffe5 350px)"></i>
<i style="left:56px;top:305px;width:351px;height:2px;background:linear-gradient(90deg,#15ffec 0px,#9affe1 160px,#e9ffe8 280px,#f6ffeb 329px,#f9ffe6 350px)"></i>
<i style="left:56px;top:307px;width:351px;height:2px;background:linear-gradient(90deg,#15ffed 0px,#9affe3 160px,#e6ffe7 275px,#f5ffed 318px,#faffe7 350px)"></i>
<i style="left:56px;top:309px;width:351px;height:2px;background:linear-gradient(90deg,#15ffef 0px,#9bffe4 160px,#e7ffe8 276px,#f5ffed 320px,#faffe8 350px)"></i>
<i style="left:56px;top:311px;width:351px;height:2px;background:linear-gradient(90deg,#15fff0 0px,#9bffe5 161px,#e8ffe9 277px,#f6ffee 321px,#faffe9 350px)"></i>
<i style="left:56px;top:313px;width:351px;height:2px;background:linear-gradient(90deg,#15fff2 0px,#9cffe6 161px,#e8ffe9 277px,#f6ffef 321px,#fbffea 350px)"></i>
<i style="left:56px;top:315px;width:351px;height:2px;background:linear-gradient(90deg,#15fff3 0px,#9cffe7 161px,#e8ffea 277px,#f7fff0 321px,#fbffeb 350px)"></i>
<i style="left:56px;top:317px;width:351px;height:2px;background:linear-gradient(90deg,#15fff5 0px,#9cffe8 161px,#e9ffeb 278px,#f7fff0 322px,#fbffeb 350px)"></i>
<i style="left:56px;top:319px;width:351px;height:2px;background:linear-gradient(90deg,#15fff6 0px,#9dffe9 162px,#e9ffec 278px,#f8fff1 322px,#fcffec 350px)"></i>
<i style="left:56px;top:321px;width:351px;height:2px;background:linear-gradient(90deg,#15fff8 0px,#9dffea 162px,#eaffec 278px,#f8fff2 322px,#fcffed 350px)"></i>
<i style="left:56px;top:323px;width:351px;height:2px;background:linear-gradient(90deg,#15fff9 0px,#9dffec 162px,#eaffed 278px,#f8fff3 322px,#fdffee 350px)"></i>
<i style="left:56px;top:325px;width:351px;height:2px;background:linear-gradient(90deg,#15fffa 0px,#9effed 163px,#eaffee 279px,#f9fff3 323px,#fdffee 350px)"></i>
<i style="left:56px;top:327px;width:351px;height:2px;background:linear-gradient(90deg,#15fffc 0px,#9effee 163px,#eaffef 278px,#f9fff4 321px,#feffef 350px)"></i>
<i style="left:56px;top:329px;width:351px;height:2px;background:linear-gradient(90deg,#15fffd 0px,#9effef 163px,#eaffef 278px,#f9fff5 321px,#fefff0 350px)"></i>
<i style="left:56px;top:331px;width:351px;height:2px;background:linear-gradient(90deg,#15fffe 0px,#9ffff0 164px,#ebfff0 279px,#fafff5 322px,#fefff0 350px)"></i>
<i style="left:56px;top:333px;width:351px;height:2px;background:linear-gradient(90deg,#15ffff 0px,#9ffff1 164px,#eafff1 278px,#fafff6 321px,#fffff1 350px)"></i>
<i style="left:56px;top:335px;width:351px;height:2px;background:linear-gradient(90deg,#15feff 0px,#9ffff2 164px,#eafff1 278px,#fafff6 321px,#fffff2 350px)"></i>
<i style="left:56px;top:337px;width:351px;height:2px;background:linear-gradient(90deg,#15fcff 0px,#9ffff4 164px,#ebfff2 278px,#fafff7 321px,#fffff2 350px)"></i>
<i style="left:56px;top:339px;width:351px;height:2px;background:linear-gradient(90deg,#15fbff 0px,#9ffff5 165px,#ebfff3 278px,#fbfff8 321px,#fffff3 350px)"></i>
<i style="left:56px;top:341px;width:351px;height:2px;background:linear-gradient(90deg,#15faff 0px,#8dfff8 141px,#e2fff2 262px,#fafff8 317px,#fffff4 350px)"></i>
<i style="left:56px;top:343px;width:351px;height:2px;background:linear-gradient(90deg,#15f9ff 0px,#87fffa 134px,#dffff3 258px,#fbfff9 317px,#fffef4 350px)"></i>
<i style="left:56px;top:345px;width:351px;height:2px;background:linear-gradient(90deg,#15f8ff 0px,#8bfffa 139px,#e2fff4 262px,#fbfff9 318px,#fffef5 350px)"></i>
<i style="left:56px;top:347px;width:351px;height:2px;background:linear-gradient(90deg,#15f6ff 0px,#91fffb 147px,#e5fff5 267px,#fcfffa 320px,#fffef5 350px)"></i>
<i style="left:56px;top:349px;width:351px;height:2px;background:linear-gradient(90deg,#15f5ff 0px,#9afffb 158px,#e9fff6 274px,#fcfffa 322px,#fffef6 350px)"></i>
<i style="left:56px;top:351px;width:351px;height:2px;background:linear-gradient(90deg,#15f4ff 0px,#a0fffc 166px,#ebfff6 279px,#fdfffb 324px,#fffef6 350px)"></i>
<i style="left:56px;top:353px;width:351px;height:2px;background:linear-gradient(90deg,#14f3ff 0px,#a1fffd 167px,#ecfff7 280px,#fdfffb 325px,#fffef7 350px)"></i>
<i style="left:56px;top:355px;width:351px;height:2px;background:linear-gradient(90deg,#14f1ff 0px,#a0fffe 167px,#ecfff8 280px,#fdfffc 325px,#fffef7 350px)"></i>
<i style="left:56px;top:357px;width:351px;height:2px;background:linear-gradient(90deg,#14f0ff 0px,#a0ffff 167px,#edfff8 281px,#fefffc 326px,#fffef8 350px)"></i>
<i style="left:56px;top:359px;width:351px;height:2px;background:linear-gradient(90deg,#14efff 0px,#a0feff 167px,#edfff9 281px,#fefffc 327px,#fffef8 350px)"></i>
<i style="left:56px;top:361px;width:351px;height:2px;background:linear-gradient(90deg,#14eeff 0px,#a0fdff 167px,#edfffa 282px,#fefffd 327px,#fffdf9 350px)"></i>
<i style="left:56px;top:363px;width:351px;height:2px;background:linear-gradient(90deg,#14ecff 0px,#a1fcff 168px,#eefffb 283px,#fefffd 328px,#fffdf9 350px)"></i>
<i style="left:56px;top:365px;width:351px;height:2px;background:linear-gradient(90deg,#14ebff 0px,#a0fbff 168px,#eefffb 283px,#fefffd 328px,#fffdf9 350px)"></i>
<i style="left:56px;top:367px;width:351px;height:2px;background:linear-gradient(90deg,#13eaff 0px,#a0faff 168px,#edfffc 283px,#fffffe 328px,#fffdf9 350px)"></i>
<i style="left:56px;top:369px;width:351px;height:2px;background:linear-gradient(90deg,#13e9ff 0px,#a0f9ff 168px,#eefffd 284px,#fffffe 329px,#fffdf9 350px)"></i>
<i style="left:56px;top:371px;width:351px;height:2px;background:linear-gradient(90deg,#13e7ff 0px,#a0f8ff 168px,#eefffe 284px,#fffffe 329px,#fffdf9 350px)"></i>
<i style="left:56px;top:373px;width:351px;height:2px;background:linear-gradient(90deg,#13e6ff 0px,#a0f7ff 168px,#eefffe 285px,#fffffe 330px,#fffcf9 350px)"></i>
<i style="left:56px;top:375px;width:351px;height:2px;background:linear-gradient(90deg,#13e5ff 0px,#9ff6ff 168px,#eeffff 285px,#fffffe 330px,#fffcf9 350px)"></i>
<i style="left:56px;top:377px;width:351px;height:2px;background:linear-gradient(90deg,#12e4ff 0px,#9ff5ff 168px,#eefeff 285px,#ffffff 330px,#fffcf9 350px)"></i>
<i style="left:56px;top:379px;width:351px;height:2px;background:linear-gradient(90deg,#12e2ff 0px,#9ff4ff 168px,#edfdff 285px,#fffffe 331px,#fffbf9 350px)"></i>
<i style="left:56px;top:381px;width:351px;height:2px;background:linear-gradient(90deg,#12e1ff 0px,#9ef3ff 168px,#edfdff 285px,#fffefe 331px,#fffbfa 350px)"></i>
<i style="left:56px;top:383px;width:351px;height:2px;background:linear-gradient(90deg,#12e0ff 0px,#9ef2ff 168px,#edfcff 285px,#fffefe 332px,#fffafa 350px)"></i>
<i style="left:56px;top:385px;width:351px;height:2px;background:linear-gradient(90deg,#11deff 0px,#9ef1ff 168px,#ecfbff 285px,#fffdfe 334px,#fffafa 350px)"></i>
<i style="left:56px;top:387px;width:351px;height:2px;background:linear-gradient(90deg,#11ddff 0px,#9eefff 168px,#ecfaff 285px,#fffcfe 336px,#fff9fa 350px)"></i>
<i style="left:56px;top:389px;width:351px;height:2px;background:linear-gradient(90deg,#11dcff 0px,#9deeff 168px,#ebf9ff 284px,#fffbfe 337px,#fff9fa 350px)"></i>
<i style="left:56px;top:391px;width:351px;height:2px;background:linear-gradient(90deg,#11dbff 0px,#9dedff 168px,#eaf8ff 284px,#fffbfd 338px,#fff8fa 350px)"></i>
<i style="left:56px;top:393px;width:351px;height:2px;background:linear-gradient(90deg,#10d9ff 0px,#9cecff 167px,#e9f7ff 283px,#fffafe 339px,#fff7fa 350px)"></i>
<i style="left:56px;top:395px;width:351px;height:2px;background:linear-gradient(90deg,#10d8ff 0px,#9bebff 167px,#e8f6ff 282px,#fff9fe 340px,#fff6fa 350px)"></i>
<i style="left:56px;top:397px;width:351px;height:2px;background:linear-gradient(90deg,#10d7ff 0px,#9beaff 167px,#e7f5ff 282px,#fff8fe 341px,#fff6fb 350px)"></i>
<i style="left:56px;top:399px;width:351px;height:2px;background:linear-gradient(90deg,#0fd5ff 0px,#9be8ff 167px,#e6f4ff 281px,#fff7fe 342px,#fff5fb 350px)"></i>
<i style="left:56px;top:401px;width:351px;height:2px;background:linear-gradient(90deg,#0fd4ff 0px,#9ae7ff 167px,#e5f2ff 280px,#fff7fe 343px,#fff4fb 350px)"></i>
<i style="left:56px;top:403px;width:351px;height:2px;background:linear-gradient(90deg,#0fd3ff 0px,#99e6ff 166px,#e4f1ff 279px,#fff6fe 344px,#fff4fc 350px)"></i>
<i style="left:56px;top:405px;width:351px;height:2px;background:linear-gradient(90deg,#0ed1ff 0px,#98e5ff 166px,#e3f0ff 278px,#fff5fe 345px,#fff3fc 350px)"></i>
<i style="left:56px;top:407px;width:351px;height:2px;background:linear-gradient(90deg,#0ed0ff 0px,#98e4ff 166px,#e1eeff 277px,#fff4fe 346px,#fff2fc 350px)"></i>
<i style="left:56px;top:409px;width:351px;height:2px;background:linear-gradient(90deg,#0ecfff 0px,#97e2ff 165px,#e0edff 276px,#fff3fe 346px,#fff2fd 350px)"></i>
<i style="left:56px;top:411px;width:351px;height:2px;background:linear-gradient(90deg,#0dcdff 0px,#96e1ff 165px,#dfecff 275px,#fff2fe 346px,#fff1fd 350px)"></i>
<i style="left:56px;top:413px;width:351px;height:2px;background:linear-gradient(90deg,#0dccff 0px,#96e0ff 165px,#ddeaff 274px,#fff1fe 347px,#fff0fd 350px)"></i>
<i style="left:56px;top:415px;width:351px;height:2px;background:linear-gradient(90deg,#0dcbff 0px,#95dfff 165px,#dde9ff 274px,#fff0ff 347px,#ffeffe 350px)"></i>
<i style="left:56px;top:417px;width:351px;height:2px;background:linear-gradient(90deg,#0cc9ff 0px,#94ddff 164px,#dbe8ff 272px,#ffefff 347px,#ffeefe 350px)"></i>
<i style="left:56px;top:419px;width:351px;height:2px;background:linear-gradient(90deg,#0cc8ff 0px,#94dcff 164px,#dae6ff 272px,#ffeeff 348px,#ffedfe 350px)"></i>
<i style="left:56px;top:421px;width:351px;height:2px;background:linear-gradient(90deg,#0cc7ff 0px,#93dbff 164px,#d9e5ff 271px,#ffedff 348px,#ffedff 350px)"></i>
<i style="left:56px;top:423px;width:351px;height:2px;background:linear-gradient(90deg,#0bc5ff 0px,#92d9ff 163px,#d7e3ff 270px,#feecff 348px,#ffecff 350px)"></i>
<i style="left:56px;top:425px;width:351px;height:2px;background:linear-gradient(90deg,#0bc4ff 0px,#91d8ff 163px,#d7e2ff 270px,#feebff 348px,#feeaff 350px)"></i>
<i style="left:56px;top:427px;width:351px;height:2px;background:linear-gradient(90deg,#0ac3ff 0px,#90d7ff 162px,#d5e1ff 269px,#fdeaff 348px,#fee9ff 350px)"></i>
<i style="left:56px;top:429px;width:351px;height:2px;background:linear-gradient(90deg,#0ac1ff 0px,#8fd5ff 162px,#d5dfff 269px,#fde9ff 349px,#fde8ff 350px)"></i>
<i style="left:56px;top:431px;width:351px;height:2px;background:linear-gradient(90deg,#0ac0ff 0px,#8fd4ff 162px,#d4deff 269px,#fce7ff 349px,#fde7ff 350px)"></i>
<i style="left:56px;top:433px;width:351px;height:2px;background:linear-gradient(90deg,#09beff 0px,#8dd3ff 161px,#d3ddff 269px,#fce6ff 349px,#fce6ff 350px)"></i>
<i style="left:56px;top:435px;width:351px;height:2px;background:linear-gradient(90deg,#09bdff 0px,#8dd1ff 161px,#d2dcff 269px,#fbe5ff 349px,#fce5ff 350px)"></i>
<i style="left:56px;top:437px;width:351px;height:2px;background:linear-gradient(90deg,#08bcff 0px,#8cd0ff 161px,#d2dbff 270px,#fbe4ff 350px)"></i>
<i style="left:56px;top:439px;width:351px;height:2px;background:linear-gradient(90deg,#08baff 0px,#8bceff 160px,#d1daff 270px,#fae3ff 350px)"></i>
<i style="left:56px;top:441px;width:351px;height:2px;background:linear-gradient(90deg,#07b9ff 0px,#8acdff 160px,#d1d9ff 271px,#fae1ff 350px)"></i>
<i style="left:56px;top:443px;width:351px;height:2px;background:linear-gradient(90deg,#07b7ff 0px,#89ccff 159px,#d1d8ff 272px,#f9e0ff 350px)"></i>
<i style="left:56px;top:445px;width:351px;height:2px;background:linear-gradient(90deg,#07b6ff 0px,#88caff 159px,#d1d7ff 273px,#f9dfff 350px)"></i>
<i style="left:56px;top:447px;width:351px;height:2px;background:linear-gradient(90deg,#06b5ff 0px,#88c9ff 159px,#d1d7ff 275px,#f8deff 350px)"></i>
<i style="left:56px;top:449px;width:351px;height:2px;background:linear-gradient(90deg,#06b3ff 0px,#86c7ff 158px,#d0d5ff 275px,#f7dcff 350px)"></i>
<i style="left:56px;top:451px;width:351px;height:2px;background:linear-gradient(90deg,#05b2ff 0px,#86c6ff 158px,#d1d5ff 277px,#f7dbff 350px)"></i>
<i style="left:56px;top:453px;width:351px;height:2px;background:linear-gradient(90deg,#05b0ff 0px,#85c5ff 158px,#d0d4ff 278px,#f6daff 350px)"></i>
<i style="left:56px;top:455px;width:351px;height:2px;background:linear-gradient(90deg,#04afff 0px,#84c3ff 157px,#d0d3ff 278px,#f5d9ff 350px)"></i>
<i style="left:56px;top:457px;width:351px;height:2px;background:linear-gradient(90deg,#04adff 0px,#83c2ff 157px,#cfd2ff 278px,#f4d7ff 350px)"></i>
<i style="left:56px;top:459px;width:351px;height:2px;background:linear-gradient(90deg,#03acff 0px,#81c0ff 156px,#ced0ff 278px,#f4d6ff 350px)"></i>
<i style="left:56px;top:461px;width:351px;height:2px;background:linear-gradient(90deg,#03abff 0px,#81bfff 156px,#cdcfff 278px,#f3d4ff 350px)"></i>
<i style="left:56px;top:463px;width:351px;height:2px;background:linear-gradient(90deg,#02a9ff 0px,#80bdff 156px,#ccceff 278px,#f2d3ff 350px)"></i>
<i style="left:56px;top:465px;width:351px;height:2px;background:linear-gradient(90deg,#02a8ff 0px,#7fbcff 155px,#cbcdff 277px,#f1d2ff 350px)"></i>
<i style="left:56px;top:467px;width:351px;height:2px;background:linear-gradient(90deg,#01a6ff 0px,#7ebaff 155px,#caccff 277px,#f1d0ff 350px)"></i>
<i style="left:56px;top:469px;width:351px;height:2px;background:linear-gradient(90deg,#01a5ff 0px,#7db9ff 155px,#c9caff 277px,#f0cfff 350px)"></i>
<i style="left:56px;top:471px;width:351px;height:2px;background:linear-gradient(90deg,#00a3ff 0px,#7cb7ff 154px,#c8c9ff 276px,#efceff 350px)"></i>
<i style="left:56px;top:473px;width:351px;height:2px;background:linear-gradient(90deg,#00a2ff 0px,#7fb6ff 159px,#c7c8ff 277px,#eeccff 350px)"></i>
<i style="left:56px;top:475px;width:351px;height:2px;background:linear-gradient(90deg,#00a1ff 0px,#81b5ff 163px,#c6c7ff 277px,#eecbff 350px)"></i>
<i style="left:56px;top:477px;width:351px;height:2px;background:linear-gradient(90deg,#00a0ff 0px,#83b4ff 167px,#c5c5ff 277px,#edc9ff 350px)"></i>
<i style="left:56px;top:479px;width:351px;height:2px;background:linear-gradient(90deg,#009eff 0px,#85b3ff 171px,#ccc7ff 290px,#ecc8ff 350px)"></i>
<i style="left:56px;top:481px;width:351px;height:2px;background:linear-gradient(90deg,#009dff 0px,#87b2ff 175px,#ccc6ff 292px,#ebc6ff 350px)"></i>
<i style="left:56px;top:483px;width:351px;height:2px;background:linear-gradient(90deg,#009cff 0px,#88b1ff 178px,#cbc4ff 292px,#eac5ff 350px)"></i>
<i style="left:56px;top:485px;width:351px;height:2px;background:linear-gradient(90deg,#009bff 0px,#109cff 23px,#81aeff 169px,#c0c0ff 273px,#e9c3ff 350px)"></i>
<i style="left:56px;top:487px;width:351px;height:2px;background:linear-gradient(90deg,#0099ff 0px,#099aff 16px,#7cacff 163px,#bebeff 271px,#e9c2ff 350px)"></i>
<i style="left:56px;top:489px;width:351px;height:2px;background:linear-gradient(90deg,#0098ff 0px,#0898ff 15px,#7babff 162px,#bcbdff 270px,#e8c0ff 350px)"></i>
<i style="left:56px;top:491px;width:351px;height:2px;background:linear-gradient(90deg,#0097ff 0px,#0797ff 15px,#7aa9ff 162px,#bbbcff 269px,#e7bfff 350px)"></i>
<i style="left:56px;top:493px;width:351px;height:2px;background:linear-gradient(90deg,#0096ff 0px,#0695ff 14px,#79a8ff 161px,#babaff 268px,#e6bdff 350px)"></i>
<i style="left:56px;top:495px;width:351px;height:2px;background:linear-gradient(90deg,#0094ff 0px,#0594ff 14px,#78a6ff 161px,#b8b9ff 267px,#e5bcff 350px)"></i>
<i style="left:56px;top:497px;width:351px;height:2px;background:linear-gradient(90deg,#0093ff 0px,#0692ff 15px,#78a5ff 162px,#b7b7ff 266px,#e4baff 350px)"></i>
<i style="left:56px;top:499px;width:351px;height:2px;background:linear-gradient(90deg,#0092ff 0px,#0591ff 15px,#77a3ff 162px,#b5b6ff 265px,#e3b9ff 350px)"></i>
<i style="left:56px;top:501px;width:351px;height:2px;background:linear-gradient(90deg,#0091ff 0px,#048fff 15px,#76a2ff 162px,#b4b5ff 263px,#e3b7ff 350px)"></i>
<i style="left:56px;top:503px;width:351px;height:2px;background:linear-gradient(90deg,#0090ff 0px,#058eff 16px,#76a0ff 163px,#b3b3ff 263px,#e2b6ff 350px)"></i>
<i style="left:56px;top:505px;width:351px;height:2px;background:linear-gradient(90deg,#008eff 0px,#048cff 16px,#759fff 163px,#b1b2ff 261px,#e1b4ff 350px)"></i>
<i style="left:56px;top:507px;width:351px;height:2px;background:linear-gradient(90deg,#008dff 0px,#048bff 17px,#759dff 164px,#afb0ff 260px,#dfb3ff 349px,#e0b3ff 350px)"></i>
<i style="left:56px;top:509px;width:351px;height:2px;background:linear-gradient(90deg,#008cff 0px,#0389ff 17px,#749cff 164px,#aeafff 259px,#dcb1ff 346px,#dfb1ff 350px)"></i>
<i style="left:56px;top:511px;width:351px;height:2px;background:linear-gradient(90deg,#008bff 0px,#0488ff 18px,#749aff 165px,#acadff 258px,#dab0ff 344px,#deafff 350px)"></i>
<i style="left:56px;top:513px;width:351px;height:2px;background:linear-gradient(90deg,#008aff 0px,#0487ff 19px,#7499ff 166px,#abacff 258px,#d9aeff 343px,#ddaeff 350px)"></i>
<i style="left:56px;top:515px;width:351px;height:2px;background:linear-gradient(90deg,#0088ff 0px,#0385ff 19px,#7498ff 166px,#aaabff 257px,#d6adff 340px,#dcacff 350px)"></i>
<i style="left:56px;top:517px;width:351px;height:2px;background:linear-gradient(90deg,#0087ff 0px,#0384ff 20px,#7497ff 168px,#a9a9ff 256px,#d4abff 337px,#dbabff 350px)"></i>
<i style="left:56px;top:519px;width:351px;height:2px;background:linear-gradient(90deg,#0086ff 0px,#0482ff 21px,#7496ff 169px,#a7a8ff 255px,#d1aaff 334px,#daa9ff 350px)"></i>
<i style="left:56px;top:521px;width:351px;height:2px;background:linear-gradient(90deg,#0085ff 0px,#0481ff 22px,#7495ff 170px,#a6a6ff 254px,#cea9ff 331px,#d9a7ff 350px)"></i>
<i style="left:56px;top:523px;width:351px;height:2px;background:linear-gradient(90deg,#0084ff 0px,#037fff 22px,#7494ff 171px,#a4a5ff 253px,#cca7ff 328px,#d8a6ff 350px)"></i>
<i style="left:56px;top:525px;width:351px;height:2px;background:linear-gradient(90deg,#0083ff 0px,#037eff 23px,#7493ff 173px,#a3a3ff 253px,#c9a6ff 325px,#d8a4ff 350px)"></i>
<i style="left:56px;top:527px;width:351px;height:2px;background:linear-gradient(90deg,#0081ff 0px,#037dff 24px,#7492ff 174px,#a2a2ff 252px,#c6a4ff 322px,#d7a2ff 350px)"></i>
<i style="left:56px;top:529px;width:351px;height:2px;background:linear-gradient(90deg,#0080ff 0px,#047bff 25px,#7592ff 176px,#ada4ff 274px,#d6a1ff 350px)"></i>
<i style="left:56px;top:531px;width:351px;height:2px;background:linear-gradient(90deg,#007fff 0px,#037aff 25px,#7490ff 176px,#aca3ff 274px,#d59fff 350px)"></i>
<i style="left:56px;top:533px;width:351px;height:2px;background:linear-gradient(90deg,#007eff 0px,#0378ff 26px,#7590ff 178px,#ada1ff 277px,#d49eff 350px)"></i>
<i style="left:56px;top:535px;width:351px;height:2px;background:linear-gradient(90deg,#007dff 0px,#0377ff 27px,#738eff 176px,#aaa0ff 274px,#d39cff 350px)"></i>
<i style="left:56px;top:537px;width:351px;height:2px;background:linear-gradient(90deg,#007cff 0px,#0375ff 28px,#708cff 174px,#a89eff 272px,#d29aff 350px)"></i>
<i style="left:56px;top:539px;width:351px;height:2px;background:linear-gradient(90deg,#007bff 0px,#0374ff 29px,#6e8aff 171px,#9999ff 246px,#b79bff 306px,#d199ff 350px)"></i>
<i style="left:56px;top:541px;width:351px;height:2px;background:linear-gradient(90deg,#0079ff 0px,#0472ff 30px,#6c89ff 170px,#9798ff 245px,#b59aff 304px,#d097ff 350px)"></i>
<i style="left:56px;top:543px;width:351px;height:2px;background:linear-gradient(90deg,#0078ff 0px,#0371ff 30px,#6987ff 167px,#9696ff 243px,#b398ff 303px,#cf95ff 350px)"></i>
<i style="left:56px;top:545px;width:351px;height:2px;background:linear-gradient(90deg,#0077ff 0px,#036fff 31px,#6785ff 165px,#9495ff 242px,#b197ff 301px,#ce94ff 350px)"></i>
<i style="left:56px;top:547px;width:351px;height:2px;background:linear-gradient(90deg,#0076ff 0px,#036eff 32px,#6584ff 163px,#9293ff 240px,#b095ff 300px,#cd92ff 350px)"></i>
<i style="left:56px;top:549px;width:351px;height:2px;background:linear-gradient(90deg,#0075ff 0px,#036dff 33px,#6282ff 160px,#9192ff 239px,#ae94ff 298px,#cc90ff 350px)"></i>
<i style="left:56px;top:551px;width:351px;height:2px;background:linear-gradient(90deg,#0074ff 0px,#036bff 34px,#6180ff 159px,#8f90ff 237px,#ac92ff 297px,#cb8eff 350px)"></i>
<i style="left:56px;top:553px;width:351px;height:2px;background:linear-gradient(90deg,#0073ff 0px,#036aff 35px,#5f7eff 157px,#8d8fff 236px,#aa91ff 295px,#ca8dff 350px)"></i>
<i style="left:56px;top:555px;width:351px;height:2px;background:linear-gradient(90deg,#0072ff 0px,#0368ff 36px,#5d7dff 155px,#8c8dff 235px,#a98fff 294px,#c98bff 350px)"></i>
<i style="left:56px;top:557px;width:351px;height:2px;background:linear-gradient(90deg,#0071ff 0px,#0367ff 36px,#5a7bff 153px,#8a8cff 233px,#a78eff 293px,#c889ff 350px)"></i>
<i style="left:56px;top:559px;width:351px;height:2px;background:linear-gradient(90deg,#0070ff 0px,#0365ff 37px,#5879ff 151px,#898aff 232px,#a58cff 291px,#c788ff 350px)"></i>
<i style="left:56px;top:561px;width:351px;height:2px;background:linear-gradient(90deg,#006eff 0px,#0364ff 38px,#5778ff 150px,#8789ff 231px,#a48bff 290px,#c686ff 350px)"></i>
<i style="left:56px;top:563px;width:351px;height:2px;background:linear-gradient(90deg,#006dff 0px,#0362ff 39px,#5576ff 148px,#8587ff 229px,#a289ff 289px,#c584ff 350px)"></i>
<i style="left:56px;top:565px;width:351px;height:2px;background:linear-gradient(90deg,#006cff 0px,#0361ff 40px,#5475ff 148px,#8486ff 228px,#a188ff 288px,#c482ff 350px)"></i>
<i style="left:56px;top:567px;width:351px;height:2px;background:linear-gradient(90deg,#006bff 0px,#0360ff 41px,#5273ff 147px,#8284ff 227px,#9f86ff 287px,#c381ff 350px)"></i>
<i style="left:56px;top:569px;width:351px;height:2px;background:linear-gradient(90deg,#006aff 0px,#035eff 42px,#5272ff 147px,#8183ff 226px,#9e85ff 286px,#c27fff 350px)"></i>
<i style="left:56px;top:571px;width:351px;height:2px;background:linear-gradient(90deg,#0069ff 0px,#035dff 43px,#5171ff 147px,#7f81ff 225px,#9c84ff 284px,#c17dff 350px)"></i>
<i style="left:56px;top:573px;width:351px;height:2px;background:linear-gradient(90deg,#0068ff 0px,#035bff 44px,#5170ff 148px,#7e80ff 225px,#9a82ff 283px,#c07bff 350px)"></i>
<i style="left:56px;top:575px;width:351px;height:2px;background:linear-gradient(90deg,#0067ff 0px,#035aff 45px,#5370ff 152px,#7d7eff 225px,#9981ff 282px,#bf7aff 350px)"></i>
<i style="left:56px;top:577px;width:351px;height:2px;background:linear-gradient(90deg,#0066ff 0px,#0358ff 46px,#5570ff 156px,#7c7dff 226px,#977fff 281px,#be78ff 350px)"></i>
<i style="left:56px;top:579px;width:351px;height:2px;background:linear-gradient(90deg,#0065ff 0px,#0357ff 46px,#5870ff 162px,#8e7fff 262px,#b478ff 335px,#bd76ff 350px)"></i>
<i style="left:56px;top:581px;width:351px;height:2px;background:linear-gradient(90deg,#0064ff 0px,#0355ff 47px,#6875ff 189px,#917dff 270px,#bc74ff 350px)"></i>
<i style="left:56px;top:583px;width:351px;height:2px;background:linear-gradient(90deg,#0063ff 0px,#0354ff 48px,#6774ff 189px,#907bff 270px,#bb72ff 350px)"></i>
<i style="left:56px;top:585px;width:351px;height:2px;background:linear-gradient(90deg,#0062ff 0px,#0352ff 49px,#6672ff 189px,#8e7aff 269px,#ba71ff 350px)"></i>
<i style="left:56px;top:587px;width:351px;height:2px;background:linear-gradient(90deg,#0061ff 0px,#0351ff 50px,#6571ff 188px,#8d78ff 268px,#b76fff 347px,#b96fff 350px)"></i>
<i style="left:56px;top:589px;width:351px;height:2px;background:linear-gradient(90deg,#0060ff 0px,#0350ff 51px,#6370ff 187px,#8c77ff 268px,#b66eff 347px,#b86dff 350px)"></i>
<i style="left:56px;top:591px;width:351px;height:2px;background:linear-gradient(90deg,#005fff 0px,#034eff 52px,#626eff 187px,#8a75ff 267px,#b36cff 344px,#b76bff 350px)"></i>
<i style="left:56px;top:593px;width:351px;height:2px;background:linear-gradient(90deg,#005eff 0px,#034dff 53px,#616dff 186px,#8974ff 266px,#b16bff 341px,#b66aff 350px)"></i>
<i style="left:56px;top:595px;width:351px;height:2px;background:linear-gradient(90deg,#005dff 0px,#034bff 54px,#606bff 186px,#8772ff 266px,#af69ff 341px,#b568ff 350px)"></i>
<i style="left:56px;top:597px;width:351px;height:2px;background:linear-gradient(90deg,#005cff 0px,#034aff 55px,#5e6aff 185px,#8671ff 265px,#ad67ff 339px,#b466ff 350px)"></i>
<i style="left:56px;top:599px;width:351px;height:2px;background:linear-gradient(90deg,#005bff 0px,#0348ff 56px,#5d68ff 184px,#846fff 264px,#ab66ff 337px,#b364ff 350px)"></i>
<i style="left:56px;top:601px;width:351px;height:2px;background:linear-gradient(90deg,#005aff 0px,#0347ff 57px,#5c67ff 184px,#836dff 263px,#a964ff 335px,#b262ff 350px)"></i>
<i style="left:56px;top:603px;width:351px;height:2px;background:linear-gradient(90deg,#0059ff 0px,#0346ff 58px,#5a66ff 183px,#826cff 263px,#a863ff 335px,#b160ff 350px)"></i>
<i style="left:56px;top:605px;width:351px;height:2px;background:linear-gradient(90deg,#0058ff 0px,#0345ff 59px,#5964ff 183px,#806aff 262px,#a561ff 333px,#b05fff 350px)"></i>
<i style="left:56px;top:607px;width:351px;height:2px;background:linear-gradient(90deg,#0057ff 0px,#0344ff 60px,#5863ff 182px,#7f69ff 261px,#a35fff 331px,#af5dff 350px)"></i>
<i style="left:56px;top:609px;width:351px;height:2px;background:linear-gradient(90deg,#0056ff 0px,#0343ff 61px,#5661ff 181px,#7d67ff 260px,#a15eff 330px,#ae5bff 350px)"></i>
<i style="left:56px;top:611px;width:351px;height:2px;background:linear-gradient(90deg,#0055ff 0px,#0342ff 62px,#5560ff 181px,#7c66ff 260px,#a05cff 330px,#ad59ff 350px)"></i>
<i style="left:56px;top:613px;width:351px;height:2px;background:linear-gradient(90deg,#0054ff 0px,#0341ff 63px,#545eff 180px,#7b64ff 259px,#9e5aff 328px,#ac57ff 350px)"></i>
<i style="left:56px;top:615px;width:351px;height:2px;background:linear-gradient(90deg,#0053ff 0px,#0340ff 64px,#535dff 180px,#7962ff 259px,#9d59ff 329px,#aa55ff 350px)"></i>
<i style="left:56px;top:617px;width:351px;height:2px;background:linear-gradient(90deg,#0052ff 0px,#033fff 65px,#515bff 179px,#7861ff 258px,#9b57ff 327px,#a954ff 350px)"></i>
<i style="left:56px;top:619px;width:351px;height:2px;background:linear-gradient(90deg,#0052ff 0px,#033eff 66px,#505aff 178px,#765fff 257px,#9955ff 326px,#a852ff 350px)"></i>
<i style="left:56px;top:621px;width:351px;height:2px;background:linear-gradient(90deg,#0051ff 0px,#033dff 67px,#4f59ff 178px,#755eff 256px,#9854ff 325px,#a750ff 350px)"></i>
<i style="left:56px;top:623px;width:351px;height:2px;background:linear-gradient(90deg,#0050ff 0px,#033cff 68px,#4d57ff 177px,#735cff 255px,#9652ff 324px,#a64eff 350px)"></i>
<i style="left:57px;top:625px;width:350px;height:2px;background:linear-gradient(90deg,#004eff 0px,#033bff 68px,#4c56ff 176px,#725bff 254px,#9450ff 322px,#a54cff 349px)"></i>
<i style="left:58px;top:627px;width:349px;height:2px;background:linear-gradient(90deg,#004dff 0px,#033aff 68px,#4b54ff 174px,#7159ff 252px,#934fff 320px,#a44aff 348px)"></i>
<i style="left:58px;top:629px;width:349px;height:2px;background:linear-gradient(90deg,#004cff 0px,#0339ff 69px,#4a53ff 174px,#6f57ff 252px,#914dff 320px,#a348ff 348px)"></i>
<i style="left:59px;top:631px;width:348px;height:2px;background:linear-gradient(90deg,#004bff 0px,#0338ff 69px,#4851ff 172px,#6e56ff 250px,#904bff 318px,#a246ff 347px)"></i>
<i style="left:60px;top:633px;width:347px;height:2px;background:linear-gradient(90deg,#004aff 0px,#0337ff 69px,#4750ff 171px,#6c54ff 248px,#8e49ff 316px,#a145ff 346px)"></i>
<i style="left:60px;top:635px;width:347px;height:2px;background:linear-gradient(90deg,#0049ff 0px,#0336ff 70px,#454eff 170px,#6b53ff 247px,#8d48ff 316px,#a043ff 346px)"></i>
<i style="left:61px;top:637px;width:346px;height:2px;background:linear-gradient(90deg,#0048ff 0px,#0335ff 70px,#444dff 169px,#6a51ff 246px,#8b46ff 314px,#9f41ff 345px)"></i>
<i style="left:62px;top:639px;width:345px;height:2px;background:linear-gradient(90deg,#0046ff 0px,#0334ff 70px,#434bff 167px,#684fff 244px,#8944ff 312px,#9d3fff 344px)"></i>
<i style="left:62px;top:641px;width:345px;height:2px;background:linear-gradient(90deg,#0046ff 0px,#0333ff 71px,#424aff 167px,#674eff 243px,#8842ff 312px,#9c3dff 344px)"></i>
<i style="left:63px;top:643px;width:344px;height:2px;background:linear-gradient(90deg,#0044ff 0px,#0332ff 71px,#4048ff 165px,#654cff 241px,#8741ff 310px,#9b3bff 343px)"></i>
<i style="left:64px;top:645px;width:343px;height:1px;background:linear-gradient(90deg,#0044ff 0px,#0331ff 71px,#3f47ff 164px,#644bff 240px,#853fff 308px,#9a3aff 342px)"></i></div></div></div>
<svg class="L" width="1075" height="954" viewBox="0 0 1075 954">
<defs><clipPath id="ic"><rect x="58.6" y="75" width="345" height="570.4"/></clipPath></defs>
<path d="M81.4 75V645.4M148.0 75V645.4M214.5 75V645.4M281.1 75V645.4M347.6 75V645.4M58.6 632.4H403.5M58.6 565.8H403.5M58.6 499.1H403.5M58.6 432.4H403.5M58.6 365.8H403.5M58.6 299.1H403.5M58.6 232.5H403.5M58.6 165.9H403.5M58.6 99.2H403.5" stroke="#999" stroke-width="1.3" fill="none"/>
<path d="M81.4 645.4v3M148.0 645.4v3M214.5 645.4v3M281.1 645.4v3M347.6 645.4v3M55.6 632.4h3M55.6 565.8h3M55.6 499.1h3M55.6 432.4h3M55.6 365.8h3M55.6 299.1h3M55.6 232.5h3M55.6 165.9h3M55.6 99.2h3" stroke="#9a9a9a" stroke-width="1.2" fill="none"/>
<path clip-path="url(#ic)" d="M180.0 825.7 L180.0 825.7 L180.0 825.7 L180.0 825.7 L179.9 825.7 L179.9 825.7 L179.9 825.7 L179.8 825.8 L179.7 825.8 L179.7 825.8 L179.6 825.8 L179.6 825.8 L179.5 825.8 L179.4 825.8 L179.4 825.8 L179.3 825.8 L179.2 825.8 L179.2 825.9 L179.1 825.9 L179.1 825.9 L179.0 826.0 L179.0 826.0 L178.9 826.0 L178.8 826.0 L178.7 826.0 L178.6 826.0 L178.5 826.0 L178.4 826.0 L178.2 826.0 L178.1 825.9 L178.0 826.0 L177.9 826.0 L177.8 826.0 L177.6 825.9 L177.5 825.9 L177.3 825.9 L177.2 825.9 L177.1 825.8 L176.9 825.8 L176.7 825.7 L176.4 825.5 L176.2 825.4 L175.9 825.2 L175.6 825.1 L175.3 824.9 L175.0 824.6 L174.6 824.4 L174.3 824.1 L173.9 823.8 L173.5 823.5 L173.1 823.2 L172.6 822.8 L172.1 822.4 L171.6 821.9 L171.0 821.5 L170.4 820.9 L169.8 820.4 L169.2 819.8 L168.6 819.2 L167.9 818.6 L167.1 817.9 L166.4 817.2 L165.5 816.4 L164.7 815.7 L163.7 814.8 L162.7 814.0 L161.7 813.0 L160.5 812.0 L159.4 811.0 L158.1 809.9 L156.8 808.7 L155.4 807.5 L154.0 806.3 L152.5 805.0 L150.9 803.5 L149.3 802.0 L147.5 800.4 L145.7 798.7 L143.9 796.8 L141.9 794.9 L139.9 792.8 L137.8 790.5 L135.7 788.1 L133.5 785.4 L131.1 782.5 L128.7 779.2 L126.0 775.4 L123.2 771.2 L120.1 766.4 L116.9 761.1 L113.5 755.3 L110.0 748.9 L106.3 741.9 L102.4 734.3 L98.4 725.8 L94.2 716.6 L89.7 706.4 L85.1 695.2 L80.2 683.0 L75.1 669.8 L69.8 655.5 L64.2 640.0 L58.3 623.2 L52.3 605.2 L46.0 585.7 L39.7 564.8 L33.5 542.5 L27.2 518.8 L21.1 493.6 L14.9 467.1 L8.7 439.1 L2.5 409.8 L-3.5 379.3 L-9.4 347.7 L-15.1 315.3 L-20.5 282.2 L-25.5 248.8 L-30.0 215.2 L-34.2 181.6 L-37.8 148.0 L-40.8 114.6 L-43.3 81.8 L-45.2 49.7 L-46.4 18.6 L-46.9 -11.5 L-46.6 -40.5 L-45.5 -68.6 L-43.7 -95.6 L-41.1 -121.2 L-37.6 -145.3 L-33.2 -167.6 L-28.1 -188.2 L-22.1 -206.9 L-15.4 -223.5 L-8.0 -237.9 L0.0 -250.1 L8.6 -259.9 L17.7 -267.6 L27.3 -273.3 L37.1 -277.1 L47.2 -279.1 L57.5 -279.5 L68.0 -278.4 L78.7 -276.2 L89.4 -272.9 L100.2 -269.0 L111.1 -264.4 L122.1 -259.3 L132.9 -253.7 L143.7 -247.9 L154.2 -241.9 L164.6 -235.7 L174.9 -229.4 L185.0 -223.0 L195.1 -216.4 L205.0 -209.6 L214.9 -202.6 L224.7 -195.5 L234.5 -188.2 L244.2 -180.8 L253.9 -173.2 L263.6 -165.4 L273.2 -157.6 L282.9 -149.5 L292.5 -141.4 L302.0 -133.2 L311.6 -124.8 L321.2 -116.4 L330.7 -107.8 L340.2 -99.2 L349.7 -90.5 L359.3 -81.7 L368.8 -72.8 L378.3 -63.9 L387.8 -54.9 L397.3 -45.9 L406.8 -36.8 L416.4 -27.7 L425.9 -18.5 L435.4 -9.3 L444.9 -0.0 L454.4 9.2 L463.9 18.5 L473.4 27.8 L482.9 37.1 L492.3 46.4 L501.8 55.7 L511.2 65.0 L520.6 74.3 L530.0 83.6 L539.3 92.9 L548.7 102.2 L558.0 111.4 L567.2 120.6 L576.4 129.8 L585.5 138.9 L594.6 148.0 L603.7 157.0 L612.7 166.0 L621.6 174.9 L630.4 183.7 L639.2 192.5 L647.9 201.1 L656.5 209.7 L665.0 218.2 L673.4 226.6 L681.7 234.9 L689.9 243.0 L698.0 251.1 L706.0 259.0 L713.8 266.8 L721.5 274.6 L729.1 282.1 L736.6 289.6 L743.8 296.8 L750.8 303.8 L757.6 310.6 L764.2 317.2 L770.6 323.5 L776.8 329.7 L782.9 335.8 L788.9 341.8 L794.7 347.6 L800.3 353.2 L805.8 358.7 L811.1 363.9 L816.1 369.0 L821.0 373.8 L825.7 378.4 L830.1 382.8 L834.4 387.1 L838.6 391.2 L842.5 395.2 L846.4 399.0 L850.0 402.6 L853.5 406.1 L856.8 409.5 L860.0 412.6 L863.0 415.7 L865.9 418.6 L868.7 421.3 L871.3 424.0 L873.9 426.5 L876.3 428.9 L878.6 431.2 L880.8 433.4 L882.9 435.5 L884.9 437.5 L886.9 439.4 L888.7 441.3 L890.5 443.1 L892.3 444.8 L894.0 446.5 L895.6 448.1 L897.2 449.7 L898.7 451.2 L900.1 452.7 L901.5 454.0 L902.8 455.4 L904.1 456.6 L905.3 457.9 L906.5 459.0 L907.6 460.2 L908.7 461.2 L909.7 462.2 L910.7 463.2 L911.5 464.1 L912.4 464.9 L913.2 465.7 L913.9 466.4 L914.6 467.1 L915.3 467.8 L915.9 468.4 L916.5 469.0 L917.1 469.6 L917.6 470.1 L918.1 470.6 L918.6 471.1 L919.1 471.6 L919.5 472.0 L919.9 472.4 L920.2 472.8 L920.6 473.1 L920.9 473.4 L921.1 473.6 L921.4 473.9 L921.6 474.1 L921.9 474.4 L922.1 474.6 L922.4 474.9 L922.6 475.1 L922.8 475.3 L923.0 475.5 L923.2 475.7 L923.4 475.9 L923.5 476.1 L923.7 476.3 L923.9 476.4 L924.1 476.6 L924.3 476.8 L924.5 477.0 L924.7 477.2 L924.8 477.3 L925.0 477.5 L925.2 477.7 L925.3 477.8 L925.4 478.0 L925.5 478.1 L925.6 478.2 L925.7 478.2 L925.8 478.3 L925.8 478.4 L925.9 478.4 L926.0 478.5 L926.0 478.5 L926.0 478.6 L926.1 478.6 L926.1 478.6 L926.2 478.7 L926.2 478.7 L926.2 478.7Z" fill="none" stroke="#000" stroke-width="1.5"/>
<rect x="58.6" y="75" width="344.9" height="570.4" fill="none" stroke="#333" stroke-width="1.2"/>
<text x="81.4" y="672.3" font-size="16.3" text-anchor="middle" fill="#222" textLength="30.5" lengthAdjust="spacingAndGlyphs">0.10</text>
<text x="148.0" y="672.3" font-size="16.3" text-anchor="middle" fill="#222" textLength="30.5" lengthAdjust="spacingAndGlyphs">0.15</text>
<text x="214.5" y="672.3" font-size="16.3" text-anchor="middle" fill="#222" textLength="30.5" lengthAdjust="spacingAndGlyphs">0.20</text>
<text x="281.1" y="672.3" font-size="16.3" text-anchor="middle" fill="#222" textLength="30.5" lengthAdjust="spacingAndGlyphs">0.25</text>
<text x="347.6" y="672.3" font-size="16.3" text-anchor="middle" fill="#222" textLength="30.5" lengthAdjust="spacingAndGlyphs">0.30</text>
<text x="54.6" y="638.4" font-size="16.3" text-anchor="end" fill="#222" textLength="29.8" lengthAdjust="spacingAndGlyphs">0.15</text>
<text x="54.6" y="571.8" font-size="16.3" text-anchor="end" fill="#222" textLength="29.8" lengthAdjust="spacingAndGlyphs">0.20</text>
<text x="54.6" y="505.1" font-size="16.3" text-anchor="end" fill="#222" textLength="29.8" lengthAdjust="spacingAndGlyphs">0.25</text>
<text x="54.6" y="438.4" font-size="16.3" text-anchor="end" fill="#222" textLength="29.8" lengthAdjust="spacingAndGlyphs">0.30</text>
<text x="54.6" y="371.8" font-size="16.3" text-anchor="end" fill="#222" textLength="29.8" lengthAdjust="spacingAndGlyphs">0.35</text>
<text x="54.6" y="305.1" font-size="16.3" text-anchor="end" fill="#222" textLength="29.8" lengthAdjust="spacingAndGlyphs">0.40</text>
<text x="54.6" y="238.5" font-size="16.3" text-anchor="end" fill="#222" textLength="29.8" lengthAdjust="spacingAndGlyphs">0.45</text>
<text x="54.6" y="171.9" font-size="16.3" text-anchor="end" fill="#222" textLength="29.8" lengthAdjust="spacingAndGlyphs">0.50</text>
<text x="54.6" y="105.2" font-size="16.3" text-anchor="end" fill="#222" textLength="29.8" lengthAdjust="spacingAndGlyphs">0.55</text>
<text x="9.5" y="361" font-size="15" text-anchor="middle" fill="#222">y</text>
<text x="234" y="697" font-size="15" text-anchor="middle" fill="#222">x</text>
<circle cx="199.8" cy="534.5" r="4.8" fill="#000" stroke="#fff" stroke-width="1.0"/>
<rect x="225.4" y="448.1" width="10.6" height="10.6" fill="#000" stroke="#fff" stroke-width="1.0"/>
<path d="M254.8 269.3L260.1 275.7L254.8 282.1L249.5 275.7Z" fill="#000" stroke="#fff" stroke-width="1.0"/>
<path d="M270.2 235.2L275.5 244.7L264.9 244.7Z" fill="#000" stroke="#fff" stroke-width="1.0"/>
<path d="M279.0 177.7L284.5 167.8L273.5 167.8Z" fill="#000" stroke="#fff" stroke-width="1.0"/>
<ellipse cx="199.9" cy="534.0" rx="5.6" ry="13.0" transform="rotate(12 199.9 534.0)" fill="none" stroke="#ff2020" stroke-width="1.2"/>
<ellipse cx="230.3" cy="454.8" rx="6.2" ry="14.5" transform="rotate(12 230.3 454.8)" fill="none" stroke="#ff2020" stroke-width="1.2"/>
<ellipse cx="254.8" cy="277.4" rx="7.2" ry="18.5" transform="rotate(8 254.8 277.4)" fill="none" stroke="#ff2020" stroke-width="1.2"/>
<ellipse cx="269.3" cy="243.0" rx="7.0" ry="20.0" transform="rotate(8 269.3 243.0)" fill="none" stroke="#ff2020" stroke-width="1.2"/>
<ellipse cx="278.9" cy="170.2" rx="8.3" ry="18.4" transform="rotate(8 278.9 170.2)" fill="none" stroke="#ff2020" stroke-width="1.2"/>
<text x="200.2" y="556.0" font-size="14" text-anchor="middle" fill="#123">A</text>
<text x="231.0" y="475.3" font-size="14" text-anchor="middle" fill="#123">B</text>
<text x="255.5" y="296.6" font-size="14" text-anchor="middle" fill="#123">C</text>
<text x="269.5" y="261.4" font-size="14" text-anchor="middle" fill="#123">D</text>
<text x="278.5" y="191.0" font-size="14" text-anchor="middle" fill="#123">E</text>
<text x="156.3" y="634.8" font-size="16" fill="#222">3</text>
<text x="174.7" y="634.8" font-size="16" fill="#222" textLength="130.3" lengthAdjust="spacingAndGlyphs">MacAdam ellipses</text>
<rect x="0.8" y="71.3" width="406.2" height="633.6" fill="none" stroke="#000" stroke-width="1.7"/>
</svg>
<div class="tt" style="top:-3.2px">CIE of La<sub>2</sub>O<sub>3</sub>: Tm<sup>3+</sup>/Ho<sup>3+</sup></div>
</body></html>
